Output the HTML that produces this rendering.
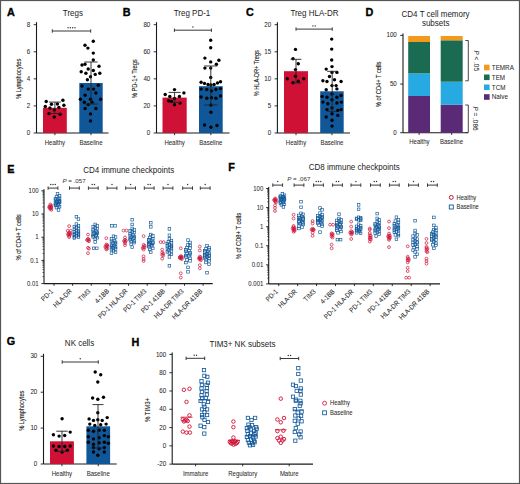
<!DOCTYPE html>
<html><head><meta charset="utf-8"><style>
html,body{margin:0;padding:0;background:#fff;}
svg{display:block;}
text{font-family:"Liberation Sans", sans-serif;}
</style></head><body>
<svg width="520" height="484" viewBox="0 0 520 484">
<rect width="520" height="484" fill="#fff"/>
<rect x="0.5" y="0.5" width="519" height="483" fill="none" stroke="#555" stroke-width="1.2"/>
<line x1="36.50" y1="22.20" x2="36.50" y2="133.00" stroke="#1a1a1a" stroke-width="1.1"/>
<line x1="36.50" y1="133.00" x2="108.50" y2="133.00" stroke="#1a1a1a" stroke-width="1.1"/>
<line x1="33.70" y1="133.00" x2="36.50" y2="133.00" stroke="#1a1a1a" stroke-width="0.9"/>
<text x="0" y="0" font-size="6.94" text-anchor="end" fill="#2a2a2a" stroke="#2a2a2a" stroke-width="0.05" transform="translate(30.30,135.00) scale(0.8929,1)" >0</text>
<line x1="33.70" y1="105.90" x2="36.50" y2="105.90" stroke="#1a1a1a" stroke-width="0.9"/>
<text x="0" y="0" font-size="6.94" text-anchor="end" fill="#2a2a2a" stroke="#2a2a2a" stroke-width="0.05" transform="translate(30.30,107.90) scale(0.8929,1)" >2</text>
<line x1="33.70" y1="78.85" x2="36.50" y2="78.85" stroke="#1a1a1a" stroke-width="0.9"/>
<text x="0" y="0" font-size="6.94" text-anchor="end" fill="#2a2a2a" stroke="#2a2a2a" stroke-width="0.05" transform="translate(30.30,80.85) scale(0.8929,1)" >4</text>
<line x1="33.70" y1="51.80" x2="36.50" y2="51.80" stroke="#1a1a1a" stroke-width="0.9"/>
<text x="0" y="0" font-size="6.94" text-anchor="end" fill="#2a2a2a" stroke="#2a2a2a" stroke-width="0.05" transform="translate(30.30,53.80) scale(0.8929,1)" >6</text>
<line x1="33.70" y1="24.70" x2="36.50" y2="24.70" stroke="#1a1a1a" stroke-width="0.9"/>
<text x="0" y="0" font-size="6.94" text-anchor="end" fill="#2a2a2a" stroke="#2a2a2a" stroke-width="0.05" transform="translate(30.30,26.70) scale(0.8929,1)" >8</text>
<rect x="43.00" y="107.80" width="23.80" height="25.20" fill="#cf1136"/>
<rect x="79.30" y="83.00" width="23.40" height="50.00" fill="#0f5799"/>
<line x1="54.90" y1="133.00" x2="54.90" y2="135.20" stroke="#1a1a1a" stroke-width="0.9"/>
<line x1="91.00" y1="133.00" x2="91.00" y2="135.20" stroke="#1a1a1a" stroke-width="0.9"/>
<text x="0" y="0" font-size="6.72" text-anchor="middle" fill="#2a2a2a" stroke="#2a2a2a" stroke-width="0.05" transform="translate(54.90,144.90) scale(0.8929,1)" >Healthy</text>
<text x="0" y="0" font-size="6.72" text-anchor="middle" fill="#2a2a2a" stroke="#2a2a2a" stroke-width="0.05" transform="translate(91.00,144.90) scale(0.8929,1)" >Baseline</text>
<circle cx="46.20" cy="101.50" r="1.7" fill="#000"/>
<circle cx="62.90" cy="100.30" r="1.7" fill="#000"/>
<circle cx="51.50" cy="104.30" r="1.7" fill="#000"/>
<circle cx="57.40" cy="104.00" r="1.7" fill="#000"/>
<circle cx="45.30" cy="106.50" r="1.7" fill="#000"/>
<circle cx="63.90" cy="105.20" r="1.7" fill="#000"/>
<circle cx="49.90" cy="108.00" r="1.7" fill="#000"/>
<circle cx="58.90" cy="107.40" r="1.7" fill="#000"/>
<circle cx="54.30" cy="109.90" r="1.7" fill="#000"/>
<circle cx="49.00" cy="113.60" r="1.7" fill="#000"/>
<circle cx="60.10" cy="114.20" r="1.7" fill="#000"/>
<circle cx="54.30" cy="117.00" r="1.7" fill="#000"/>
<circle cx="93.30" cy="41.20" r="1.7" fill="#000"/>
<circle cx="85.00" cy="45.30" r="1.7" fill="#000"/>
<circle cx="87.90" cy="48.10" r="1.7" fill="#000"/>
<circle cx="93.30" cy="53.10" r="1.7" fill="#000"/>
<circle cx="93.30" cy="60.00" r="1.7" fill="#000"/>
<circle cx="82.00" cy="65.00" r="1.7" fill="#000"/>
<circle cx="85.00" cy="64.30" r="1.7" fill="#000"/>
<circle cx="99.00" cy="66.20" r="1.7" fill="#000"/>
<circle cx="88.20" cy="69.00" r="1.7" fill="#000"/>
<circle cx="93.30" cy="70.50" r="1.7" fill="#000"/>
<circle cx="81.20" cy="71.70" r="1.7" fill="#000"/>
<circle cx="85.90" cy="73.30" r="1.7" fill="#000"/>
<circle cx="95.20" cy="74.40" r="1.7" fill="#000"/>
<circle cx="99.80" cy="73.30" r="1.7" fill="#000"/>
<circle cx="90.50" cy="76.70" r="1.7" fill="#000"/>
<circle cx="87.40" cy="79.80" r="1.7" fill="#000"/>
<circle cx="82.00" cy="86.00" r="1.7" fill="#000"/>
<circle cx="98.30" cy="85.20" r="1.7" fill="#000"/>
<circle cx="88.20" cy="89.10" r="1.7" fill="#000"/>
<circle cx="93.60" cy="89.10" r="1.7" fill="#000"/>
<circle cx="85.10" cy="95.30" r="1.7" fill="#000"/>
<circle cx="95.90" cy="93.00" r="1.7" fill="#000"/>
<circle cx="80.40" cy="99.20" r="1.7" fill="#000"/>
<circle cx="90.50" cy="99.20" r="1.7" fill="#000"/>
<circle cx="100.60" cy="99.20" r="1.7" fill="#000"/>
<circle cx="84.30" cy="102.30" r="1.7" fill="#000"/>
<circle cx="88.20" cy="104.60" r="1.7" fill="#000"/>
<circle cx="92.00" cy="102.30" r="1.7" fill="#000"/>
<circle cx="85.10" cy="108.50" r="1.7" fill="#000"/>
<circle cx="95.90" cy="108.50" r="1.7" fill="#000"/>
<circle cx="90.50" cy="113.90" r="1.7" fill="#000"/>
<circle cx="90.50" cy="120.90" r="1.7" fill="#000"/>
<line x1="54.90" y1="102.10" x2="54.90" y2="113.50" stroke="#222" stroke-width="0.9"/>
<line x1="48.90" y1="102.10" x2="60.90" y2="102.10" stroke="#222" stroke-width="0.9"/>
<line x1="48.90" y1="113.50" x2="60.90" y2="113.50" stroke="#222" stroke-width="0.9"/>
<line x1="91.00" y1="62.00" x2="91.00" y2="104.00" stroke="#222" stroke-width="0.9"/>
<line x1="84.40" y1="62.00" x2="97.60" y2="62.00" stroke="#222" stroke-width="0.9"/>
<line x1="84.40" y1="104.00" x2="97.60" y2="104.00" stroke="#222" stroke-width="0.9"/>
<line x1="52.30" y1="31.00" x2="90.70" y2="31.00" stroke="#383838" stroke-width="1.0"/>
<line x1="52.30" y1="29.30" x2="52.30" y2="32.70" stroke="#383838" stroke-width="1.0"/>
<line x1="90.70" y1="29.30" x2="90.70" y2="32.70" stroke="#383838" stroke-width="1.0"/>
<circle cx="68.05" cy="27.80" r="0.72" fill="#333"/>
<circle cx="70.35" cy="27.80" r="0.72" fill="#333"/>
<circle cx="72.65" cy="27.80" r="0.72" fill="#333"/>
<circle cx="74.95" cy="27.80" r="0.72" fill="#333"/>
<text x="0" y="0" font-size="8.56" text-anchor="middle" font-weight="normal" fill="#222" transform="translate(72.90,16.10) scale(0.9346,1)" >Tregs</text>
<text x="7.00" y="15.70" font-size="10.8" font-weight="bold" fill="#000" stroke="#000" stroke-width="0.35">A</text>
<text x="0" y="0" font-size="6.6" text-anchor="middle" fill="#222" stroke="#222" stroke-width="0.12" transform="translate(21.20,78.90) rotate(-90)" textLength="40.3" lengthAdjust="spacingAndGlyphs">% Lymphocytes</text>
<line x1="156.50" y1="22.20" x2="156.50" y2="133.00" stroke="#1a1a1a" stroke-width="1.1"/>
<line x1="156.50" y1="133.00" x2="229.50" y2="133.00" stroke="#1a1a1a" stroke-width="1.1"/>
<line x1="153.70" y1="133.00" x2="156.50" y2="133.00" stroke="#1a1a1a" stroke-width="0.9"/>
<text x="0" y="0" font-size="6.94" text-anchor="end" fill="#2a2a2a" stroke="#2a2a2a" stroke-width="0.05" transform="translate(150.30,135.00) scale(0.8929,1)" >0</text>
<line x1="153.70" y1="105.90" x2="156.50" y2="105.90" stroke="#1a1a1a" stroke-width="0.9"/>
<text x="0" y="0" font-size="6.94" text-anchor="end" fill="#2a2a2a" stroke="#2a2a2a" stroke-width="0.05" transform="translate(150.30,107.90) scale(0.8929,1)" >20</text>
<line x1="153.70" y1="78.85" x2="156.50" y2="78.85" stroke="#1a1a1a" stroke-width="0.9"/>
<text x="0" y="0" font-size="6.94" text-anchor="end" fill="#2a2a2a" stroke="#2a2a2a" stroke-width="0.05" transform="translate(150.30,80.85) scale(0.8929,1)" >40</text>
<line x1="153.70" y1="51.80" x2="156.50" y2="51.80" stroke="#1a1a1a" stroke-width="0.9"/>
<text x="0" y="0" font-size="6.94" text-anchor="end" fill="#2a2a2a" stroke="#2a2a2a" stroke-width="0.05" transform="translate(150.30,53.80) scale(0.8929,1)" >60</text>
<line x1="153.70" y1="24.70" x2="156.50" y2="24.70" stroke="#1a1a1a" stroke-width="0.9"/>
<text x="0" y="0" font-size="6.94" text-anchor="end" fill="#2a2a2a" stroke="#2a2a2a" stroke-width="0.05" transform="translate(150.30,26.70) scale(0.8929,1)" >80</text>
<rect x="162.50" y="97.60" width="24.20" height="35.40" fill="#cf1136"/>
<rect x="199.00" y="86.20" width="23.70" height="46.80" fill="#0f5799"/>
<line x1="174.60" y1="133.00" x2="174.60" y2="135.20" stroke="#1a1a1a" stroke-width="0.9"/>
<line x1="210.85" y1="133.00" x2="210.85" y2="135.20" stroke="#1a1a1a" stroke-width="0.9"/>
<text x="0" y="0" font-size="6.72" text-anchor="middle" fill="#2a2a2a" stroke="#2a2a2a" stroke-width="0.05" transform="translate(174.60,144.90) scale(0.8929,1)" >Healthy</text>
<text x="0" y="0" font-size="6.72" text-anchor="middle" fill="#2a2a2a" stroke="#2a2a2a" stroke-width="0.05" transform="translate(210.85,144.90) scale(0.8929,1)" >Baseline</text>
<circle cx="174.50" cy="89.60" r="1.7" fill="#000"/>
<circle cx="165.20" cy="94.50" r="1.7" fill="#000"/>
<circle cx="183.90" cy="92.90" r="1.7" fill="#000"/>
<circle cx="169.80" cy="96.50" r="1.7" fill="#000"/>
<circle cx="179.40" cy="96.50" r="1.7" fill="#000"/>
<circle cx="174.50" cy="98.50" r="1.7" fill="#000"/>
<circle cx="168.50" cy="100.70" r="1.7" fill="#000"/>
<circle cx="171.50" cy="101.50" r="1.7" fill="#000"/>
<circle cx="180.10" cy="103.10" r="1.7" fill="#000"/>
<circle cx="174.50" cy="104.80" r="1.7" fill="#000"/>
<circle cx="210.70" cy="40.20" r="1.7" fill="#000"/>
<circle cx="210.70" cy="47.80" r="1.7" fill="#000"/>
<circle cx="204.90" cy="58.10" r="1.7" fill="#000"/>
<circle cx="218.90" cy="60.20" r="1.7" fill="#000"/>
<circle cx="210.70" cy="61.90" r="1.7" fill="#000"/>
<circle cx="216.40" cy="64.30" r="1.7" fill="#000"/>
<circle cx="204.90" cy="68.10" r="1.7" fill="#000"/>
<circle cx="210.70" cy="68.10" r="1.7" fill="#000"/>
<circle cx="210.70" cy="77.40" r="1.7" fill="#000"/>
<circle cx="201.10" cy="82.30" r="1.7" fill="#000"/>
<circle cx="204.50" cy="83.40" r="1.7" fill="#000"/>
<circle cx="208.00" cy="84.50" r="1.7" fill="#000"/>
<circle cx="210.90" cy="85.00" r="1.7" fill="#000"/>
<circle cx="214.10" cy="84.50" r="1.7" fill="#000"/>
<circle cx="217.50" cy="83.00" r="1.7" fill="#000"/>
<circle cx="220.50" cy="81.80" r="1.7" fill="#000"/>
<circle cx="201.10" cy="89.10" r="1.7" fill="#000"/>
<circle cx="206.80" cy="89.50" r="1.7" fill="#000"/>
<circle cx="211.40" cy="90.90" r="1.7" fill="#000"/>
<circle cx="215.90" cy="89.50" r="1.7" fill="#000"/>
<circle cx="220.50" cy="88.60" r="1.7" fill="#000"/>
<circle cx="201.10" cy="97.00" r="1.7" fill="#000"/>
<circle cx="206.80" cy="98.20" r="1.7" fill="#000"/>
<circle cx="211.40" cy="97.70" r="1.7" fill="#000"/>
<circle cx="215.90" cy="98.20" r="1.7" fill="#000"/>
<circle cx="220.50" cy="95.90" r="1.7" fill="#000"/>
<circle cx="210.90" cy="105.00" r="1.7" fill="#000"/>
<circle cx="210.90" cy="112.30" r="1.7" fill="#000"/>
<circle cx="204.50" cy="125.00" r="1.7" fill="#000"/>
<circle cx="210.90" cy="127.30" r="1.7" fill="#000"/>
<circle cx="217.00" cy="125.50" r="1.7" fill="#000"/>
<line x1="174.60" y1="92.40" x2="174.60" y2="102.40" stroke="#222" stroke-width="0.9"/>
<line x1="168.60" y1="92.40" x2="180.60" y2="92.40" stroke="#222" stroke-width="0.9"/>
<line x1="168.60" y1="102.40" x2="180.60" y2="102.40" stroke="#222" stroke-width="0.9"/>
<line x1="210.80" y1="66.00" x2="210.80" y2="105.00" stroke="#222" stroke-width="0.9"/>
<line x1="204.20" y1="66.00" x2="217.40" y2="66.00" stroke="#222" stroke-width="0.9"/>
<line x1="204.20" y1="105.00" x2="217.40" y2="105.00" stroke="#222" stroke-width="0.9"/>
<line x1="174.40" y1="30.20" x2="211.40" y2="30.20" stroke="#383838" stroke-width="1.0"/>
<line x1="174.40" y1="28.50" x2="174.40" y2="31.90" stroke="#383838" stroke-width="1.0"/>
<line x1="211.40" y1="28.50" x2="211.40" y2="31.90" stroke="#383838" stroke-width="1.0"/>
<circle cx="192.90" cy="27.00" r="0.72" fill="#333"/>
<text x="0" y="0" font-size="8.56" text-anchor="middle" font-weight="normal" fill="#222" transform="translate(192.00,16.10) scale(0.9346,1)" >Treg PD-1</text>
<text x="122.80" y="15.70" font-size="10.8" font-weight="bold" fill="#000" stroke="#000" stroke-width="0.35">B</text>
<text x="0" y="0" font-size="6.6" text-anchor="middle" fill="#222" stroke="#222" stroke-width="0.12" transform="translate(137.00,78.80) rotate(-90)" textLength="39" lengthAdjust="spacingAndGlyphs">% PD-1+ Tregs</text>
<line x1="277.40" y1="22.20" x2="277.40" y2="133.00" stroke="#1a1a1a" stroke-width="1.1"/>
<line x1="277.40" y1="133.00" x2="350.00" y2="133.00" stroke="#1a1a1a" stroke-width="1.1"/>
<line x1="274.60" y1="133.00" x2="277.40" y2="133.00" stroke="#1a1a1a" stroke-width="0.9"/>
<text x="0" y="0" font-size="6.94" text-anchor="end" fill="#2a2a2a" stroke="#2a2a2a" stroke-width="0.05" transform="translate(271.20,135.00) scale(0.8929,1)" >0</text>
<line x1="274.60" y1="105.90" x2="277.40" y2="105.90" stroke="#1a1a1a" stroke-width="0.9"/>
<text x="0" y="0" font-size="6.94" text-anchor="end" fill="#2a2a2a" stroke="#2a2a2a" stroke-width="0.05" transform="translate(271.20,107.90) scale(0.8929,1)" >5</text>
<line x1="274.60" y1="78.85" x2="277.40" y2="78.85" stroke="#1a1a1a" stroke-width="0.9"/>
<text x="0" y="0" font-size="6.94" text-anchor="end" fill="#2a2a2a" stroke="#2a2a2a" stroke-width="0.05" transform="translate(271.20,80.85) scale(0.8929,1)" >10</text>
<line x1="274.60" y1="51.80" x2="277.40" y2="51.80" stroke="#1a1a1a" stroke-width="0.9"/>
<text x="0" y="0" font-size="6.94" text-anchor="end" fill="#2a2a2a" stroke="#2a2a2a" stroke-width="0.05" transform="translate(271.20,53.80) scale(0.8929,1)" >15</text>
<line x1="274.60" y1="24.70" x2="277.40" y2="24.70" stroke="#1a1a1a" stroke-width="0.9"/>
<text x="0" y="0" font-size="6.94" text-anchor="end" fill="#2a2a2a" stroke="#2a2a2a" stroke-width="0.05" transform="translate(271.20,26.70) scale(0.8929,1)" >20</text>
<rect x="284.00" y="71.20" width="24.00" height="61.80" fill="#cf1136"/>
<rect x="320.20" y="91.30" width="23.50" height="41.70" fill="#0f5799"/>
<line x1="296.00" y1="133.00" x2="296.00" y2="135.20" stroke="#1a1a1a" stroke-width="0.9"/>
<line x1="331.95" y1="133.00" x2="331.95" y2="135.20" stroke="#1a1a1a" stroke-width="0.9"/>
<text x="0" y="0" font-size="6.72" text-anchor="middle" fill="#2a2a2a" stroke="#2a2a2a" stroke-width="0.05" transform="translate(296.00,144.90) scale(0.8929,1)" >Healthy</text>
<text x="0" y="0" font-size="6.72" text-anchor="middle" fill="#2a2a2a" stroke="#2a2a2a" stroke-width="0.05" transform="translate(331.95,144.90) scale(0.8929,1)" >Baseline</text>
<circle cx="295.50" cy="49.40" r="1.7" fill="#000"/>
<circle cx="293.00" cy="58.80" r="1.7" fill="#000"/>
<circle cx="298.30" cy="63.80" r="1.7" fill="#000"/>
<circle cx="295.50" cy="69.60" r="1.7" fill="#000"/>
<circle cx="295.50" cy="76.20" r="1.7" fill="#000"/>
<circle cx="287.30" cy="78.70" r="1.7" fill="#000"/>
<circle cx="303.80" cy="78.70" r="1.7" fill="#000"/>
<circle cx="293.00" cy="82.80" r="1.7" fill="#000"/>
<circle cx="298.30" cy="81.20" r="1.7" fill="#000"/>
<circle cx="331.70" cy="39.10" r="1.7" fill="#000"/>
<circle cx="331.70" cy="49.10" r="1.7" fill="#000"/>
<circle cx="331.70" cy="60.00" r="1.7" fill="#000"/>
<circle cx="326.20" cy="69.10" r="1.7" fill="#000"/>
<circle cx="332.00" cy="66.60" r="1.7" fill="#000"/>
<circle cx="332.00" cy="72.40" r="1.7" fill="#000"/>
<circle cx="336.90" cy="72.40" r="1.7" fill="#000"/>
<circle cx="329.50" cy="76.50" r="1.7" fill="#000"/>
<circle cx="334.50" cy="79.80" r="1.7" fill="#000"/>
<circle cx="322.90" cy="80.70" r="1.7" fill="#000"/>
<circle cx="327.00" cy="81.50" r="1.7" fill="#000"/>
<circle cx="341.10" cy="81.50" r="1.7" fill="#000"/>
<circle cx="332.00" cy="85.60" r="1.7" fill="#000"/>
<circle cx="336.10" cy="85.60" r="1.7" fill="#000"/>
<circle cx="326.20" cy="89.80" r="1.7" fill="#000"/>
<circle cx="336.90" cy="88.90" r="1.7" fill="#000"/>
<circle cx="322.10" cy="96.40" r="1.7" fill="#000"/>
<circle cx="327.00" cy="97.20" r="1.7" fill="#000"/>
<circle cx="332.00" cy="93.90" r="1.7" fill="#000"/>
<circle cx="336.90" cy="97.20" r="1.7" fill="#000"/>
<circle cx="341.10" cy="95.50" r="1.7" fill="#000"/>
<circle cx="322.90" cy="102.10" r="1.7" fill="#000"/>
<circle cx="327.90" cy="103.80" r="1.7" fill="#000"/>
<circle cx="332.00" cy="99.70" r="1.7" fill="#000"/>
<circle cx="336.90" cy="103.00" r="1.7" fill="#000"/>
<circle cx="341.40" cy="102.10" r="1.7" fill="#000"/>
<circle cx="327.00" cy="109.60" r="1.7" fill="#000"/>
<circle cx="332.00" cy="107.90" r="1.7" fill="#000"/>
<circle cx="337.80" cy="110.40" r="1.7" fill="#000"/>
<circle cx="341.10" cy="109.60" r="1.7" fill="#000"/>
<circle cx="326.20" cy="117.00" r="1.7" fill="#000"/>
<circle cx="332.00" cy="113.70" r="1.7" fill="#000"/>
<circle cx="337.80" cy="115.40" r="1.7" fill="#000"/>
<circle cx="332.00" cy="120.30" r="1.7" fill="#000"/>
<circle cx="332.00" cy="126.10" r="1.7" fill="#000"/>
<line x1="296.00" y1="59.30" x2="296.00" y2="83.00" stroke="#222" stroke-width="0.9"/>
<line x1="290.60" y1="59.30" x2="301.40" y2="59.30" stroke="#222" stroke-width="0.9"/>
<line x1="290.60" y1="83.00" x2="301.40" y2="83.00" stroke="#222" stroke-width="0.9"/>
<line x1="332.20" y1="71.30" x2="332.20" y2="111.30" stroke="#222" stroke-width="0.9"/>
<line x1="327.20" y1="71.30" x2="337.20" y2="71.30" stroke="#222" stroke-width="0.9"/>
<line x1="327.20" y1="111.30" x2="337.20" y2="111.30" stroke="#222" stroke-width="0.9"/>
<line x1="296.00" y1="29.10" x2="332.20" y2="29.10" stroke="#383838" stroke-width="1.0"/>
<line x1="296.00" y1="27.40" x2="296.00" y2="30.80" stroke="#383838" stroke-width="1.0"/>
<line x1="332.20" y1="27.40" x2="332.20" y2="30.80" stroke="#383838" stroke-width="1.0"/>
<circle cx="312.95" cy="25.90" r="0.72" fill="#333"/>
<circle cx="315.25" cy="25.90" r="0.72" fill="#333"/>
<text x="0" y="0" font-size="8.56" text-anchor="middle" font-weight="normal" fill="#222" transform="translate(314.40,16.10) scale(0.9346,1)" >Treg HLA-DR</text>
<text x="246.00" y="15.70" font-size="10.8" font-weight="bold" fill="#000" stroke="#000" stroke-width="0.35">C</text>
<text x="0" y="0" font-size="6.6" text-anchor="middle" fill="#222" stroke="#222" stroke-width="0.12" transform="translate(259.00,73.20) rotate(-90)" textLength="46.2" lengthAdjust="spacingAndGlyphs">% HLA-DR+ Tregs</text>
<line x1="403.00" y1="33.40" x2="403.00" y2="132.70" stroke="#1a1a1a" stroke-width="1.1"/>
<line x1="403.00" y1="132.70" x2="468.00" y2="132.70" stroke="#1a1a1a" stroke-width="1.1"/>
<line x1="400.20" y1="132.70" x2="403.00" y2="132.70" stroke="#1a1a1a" stroke-width="0.9"/>
<text x="0" y="0" font-size="6.94" text-anchor="end" fill="#2a2a2a" stroke="#2a2a2a" stroke-width="0.05" transform="translate(396.80,134.70) scale(0.8929,1)" >0</text>
<line x1="400.20" y1="84.05" x2="403.00" y2="84.05" stroke="#1a1a1a" stroke-width="0.9"/>
<text x="0" y="0" font-size="6.94" text-anchor="end" fill="#2a2a2a" stroke="#2a2a2a" stroke-width="0.05" transform="translate(396.80,86.05) scale(0.8929,1)" >50</text>
<line x1="400.20" y1="35.40" x2="403.00" y2="35.40" stroke="#1a1a1a" stroke-width="0.9"/>
<text x="0" y="0" font-size="6.94" text-anchor="end" fill="#2a2a2a" stroke="#2a2a2a" stroke-width="0.05" transform="translate(396.80,37.40) scale(0.8929,1)" >100</text>
<rect x="408.20" y="96.00" width="21.80" height="36.70" fill="#5b2a76"/>
<rect x="408.20" y="73.40" width="21.80" height="22.60" fill="#27a9e1"/>
<rect x="408.20" y="42.00" width="21.80" height="31.40" fill="#1b6a52"/>
<rect x="408.20" y="36.00" width="21.80" height="6.00" fill="#f39a1e"/>
<rect x="440.70" y="104.80" width="22.00" height="27.90" fill="#5b2a76"/>
<rect x="440.70" y="81.70" width="22.00" height="23.10" fill="#27a9e1"/>
<rect x="440.70" y="40.30" width="22.00" height="41.40" fill="#1b6a52"/>
<rect x="440.70" y="36.00" width="22.00" height="4.30" fill="#f39a1e"/>
<line x1="419.10" y1="132.70" x2="419.10" y2="134.90" stroke="#1a1a1a" stroke-width="0.9"/>
<line x1="451.70" y1="132.70" x2="451.70" y2="134.90" stroke="#1a1a1a" stroke-width="0.9"/>
<text x="0" y="0" font-size="6.72" text-anchor="middle" fill="#2a2a2a" stroke="#2a2a2a" stroke-width="0.05" transform="translate(419.40,144.00) scale(0.8929,1)" >Healthy</text>
<text x="0" y="0" font-size="6.72" text-anchor="middle" fill="#2a2a2a" stroke="#2a2a2a" stroke-width="0.05" transform="translate(451.50,144.00) scale(0.8929,1)" >Baseline</text>
<path d="M465.3 40.5 H468.3 V80.8 H465.3" fill="none" stroke="#333" stroke-width="0.9"/>
<path d="M465.3 105 H468.3 V132.6 H465.3" fill="none" stroke="#333" stroke-width="0.9"/>
<text x="0" y="0" font-size="7" text-anchor="middle" fill="#2a2a2a" stroke="#2a2a2a" stroke-width="0.05" transform="translate(476.2,60.7) rotate(90) scale(0.92,1)" dy="2.3"><tspan font-style="italic">P</tspan> &lt; .05</text>
<text x="0" y="0" font-size="7" text-anchor="middle" fill="#2a2a2a" stroke="#2a2a2a" stroke-width="0.05" transform="translate(474.9,118.5) rotate(90) scale(0.92,1)" dy="2.3"><tspan font-style="italic">P</tspan> = .086</text>
<rect x="484.00" y="64.70" width="5.60" height="5.60" fill="#f39a1e"/>
<text x="0" y="0" font-size="7.06" text-anchor="start" fill="#2a2a2a" stroke="#2a2a2a" stroke-width="0.05" transform="translate(491.80,69.70) scale(0.8929,1)" >TEMRA</text>
<rect x="484.00" y="74.50" width="5.60" height="5.60" fill="#1b6a52"/>
<text x="0" y="0" font-size="7.06" text-anchor="start" fill="#2a2a2a" stroke="#2a2a2a" stroke-width="0.05" transform="translate(491.80,79.50) scale(0.8929,1)" >TEM</text>
<rect x="484.00" y="84.50" width="5.60" height="5.60" fill="#27a9e1"/>
<text x="0" y="0" font-size="7.06" text-anchor="start" fill="#2a2a2a" stroke="#2a2a2a" stroke-width="0.05" transform="translate(491.80,89.50) scale(0.8929,1)" >TCM</text>
<rect x="484.00" y="94.20" width="5.60" height="5.60" fill="#5b2a76"/>
<text x="0" y="0" font-size="7.06" text-anchor="start" fill="#2a2a2a" stroke="#2a2a2a" stroke-width="0.05" transform="translate(491.80,99.20) scale(0.8929,1)" >Naive</text>
<text x="0" y="0" font-size="8.56" text-anchor="middle" font-weight="normal" fill="#222" transform="translate(435.60,16.50) scale(0.9346,1)" >CD4 T cell memory</text>
<text x="0" y="0" font-size="8.56" text-anchor="middle" font-weight="normal" fill="#222" transform="translate(435.70,25.80) scale(0.9346,1)" >subsets</text>
<text x="365.50" y="15.70" font-size="10.8" font-weight="bold" fill="#000" stroke="#000" stroke-width="0.35">D</text>
<text x="0" y="0" font-size="6.6" text-anchor="middle" fill="#222" stroke="#222" stroke-width="0.12" transform="translate(380.60,84.40) rotate(-90)" textLength="45.6" lengthAdjust="spacingAndGlyphs">% of CD4+ T cells</text>
<line x1="44.00" y1="189.30" x2="44.00" y2="283.60" stroke="#1a1a1a" stroke-width="1.1"/>
<line x1="44.00" y1="283.60" x2="212.70" y2="283.60" stroke="#1a1a1a" stroke-width="1.1"/>
<line x1="41.40" y1="190.80" x2="44.00" y2="190.80" stroke="#1a1a1a" stroke-width="0.9"/>
<text x="0" y="0" font-size="6.72" text-anchor="end" fill="#2a2a2a" stroke="#2a2a2a" stroke-width="0.05" transform="translate(38.60,192.90) scale(0.8929,1)" >100</text>
<line x1="42.40" y1="207.02" x2="44.00" y2="207.02" stroke="#1a1a1a" stroke-width="0.6"/>
<line x1="42.40" y1="202.93" x2="44.00" y2="202.93" stroke="#1a1a1a" stroke-width="0.6"/>
<line x1="42.40" y1="200.03" x2="44.00" y2="200.03" stroke="#1a1a1a" stroke-width="0.6"/>
<line x1="42.40" y1="197.78" x2="44.00" y2="197.78" stroke="#1a1a1a" stroke-width="0.6"/>
<line x1="42.40" y1="195.95" x2="44.00" y2="195.95" stroke="#1a1a1a" stroke-width="0.6"/>
<line x1="42.40" y1="194.39" x2="44.00" y2="194.39" stroke="#1a1a1a" stroke-width="0.6"/>
<line x1="42.40" y1="193.05" x2="44.00" y2="193.05" stroke="#1a1a1a" stroke-width="0.6"/>
<line x1="42.40" y1="191.86" x2="44.00" y2="191.86" stroke="#1a1a1a" stroke-width="0.6"/>
<line x1="41.40" y1="214.00" x2="44.00" y2="214.00" stroke="#1a1a1a" stroke-width="0.9"/>
<text x="0" y="0" font-size="6.72" text-anchor="end" fill="#2a2a2a" stroke="#2a2a2a" stroke-width="0.05" transform="translate(38.60,216.10) scale(0.8929,1)" >10</text>
<line x1="42.40" y1="230.22" x2="44.00" y2="230.22" stroke="#1a1a1a" stroke-width="0.6"/>
<line x1="42.40" y1="226.13" x2="44.00" y2="226.13" stroke="#1a1a1a" stroke-width="0.6"/>
<line x1="42.40" y1="223.23" x2="44.00" y2="223.23" stroke="#1a1a1a" stroke-width="0.6"/>
<line x1="42.40" y1="220.98" x2="44.00" y2="220.98" stroke="#1a1a1a" stroke-width="0.6"/>
<line x1="42.40" y1="219.15" x2="44.00" y2="219.15" stroke="#1a1a1a" stroke-width="0.6"/>
<line x1="42.40" y1="217.59" x2="44.00" y2="217.59" stroke="#1a1a1a" stroke-width="0.6"/>
<line x1="42.40" y1="216.25" x2="44.00" y2="216.25" stroke="#1a1a1a" stroke-width="0.6"/>
<line x1="42.40" y1="215.06" x2="44.00" y2="215.06" stroke="#1a1a1a" stroke-width="0.6"/>
<line x1="41.40" y1="237.20" x2="44.00" y2="237.20" stroke="#1a1a1a" stroke-width="0.9"/>
<text x="0" y="0" font-size="6.72" text-anchor="end" fill="#2a2a2a" stroke="#2a2a2a" stroke-width="0.05" transform="translate(38.60,239.30) scale(0.8929,1)" >1</text>
<line x1="42.40" y1="253.42" x2="44.00" y2="253.42" stroke="#1a1a1a" stroke-width="0.6"/>
<line x1="42.40" y1="249.33" x2="44.00" y2="249.33" stroke="#1a1a1a" stroke-width="0.6"/>
<line x1="42.40" y1="246.43" x2="44.00" y2="246.43" stroke="#1a1a1a" stroke-width="0.6"/>
<line x1="42.40" y1="244.18" x2="44.00" y2="244.18" stroke="#1a1a1a" stroke-width="0.6"/>
<line x1="42.40" y1="242.35" x2="44.00" y2="242.35" stroke="#1a1a1a" stroke-width="0.6"/>
<line x1="42.40" y1="240.79" x2="44.00" y2="240.79" stroke="#1a1a1a" stroke-width="0.6"/>
<line x1="42.40" y1="239.45" x2="44.00" y2="239.45" stroke="#1a1a1a" stroke-width="0.6"/>
<line x1="42.40" y1="238.26" x2="44.00" y2="238.26" stroke="#1a1a1a" stroke-width="0.6"/>
<line x1="41.40" y1="260.40" x2="44.00" y2="260.40" stroke="#1a1a1a" stroke-width="0.9"/>
<text x="0" y="0" font-size="6.72" text-anchor="end" fill="#2a2a2a" stroke="#2a2a2a" stroke-width="0.05" transform="translate(38.60,262.50) scale(0.8929,1)" >0.1</text>
<line x1="42.40" y1="276.62" x2="44.00" y2="276.62" stroke="#1a1a1a" stroke-width="0.6"/>
<line x1="42.40" y1="272.53" x2="44.00" y2="272.53" stroke="#1a1a1a" stroke-width="0.6"/>
<line x1="42.40" y1="269.63" x2="44.00" y2="269.63" stroke="#1a1a1a" stroke-width="0.6"/>
<line x1="42.40" y1="267.38" x2="44.00" y2="267.38" stroke="#1a1a1a" stroke-width="0.6"/>
<line x1="42.40" y1="265.55" x2="44.00" y2="265.55" stroke="#1a1a1a" stroke-width="0.6"/>
<line x1="42.40" y1="263.99" x2="44.00" y2="263.99" stroke="#1a1a1a" stroke-width="0.6"/>
<line x1="42.40" y1="262.65" x2="44.00" y2="262.65" stroke="#1a1a1a" stroke-width="0.6"/>
<line x1="42.40" y1="261.46" x2="44.00" y2="261.46" stroke="#1a1a1a" stroke-width="0.6"/>
<line x1="41.40" y1="283.60" x2="44.00" y2="283.60" stroke="#1a1a1a" stroke-width="0.9"/>
<text x="0" y="0" font-size="6.72" text-anchor="end" fill="#2a2a2a" stroke="#2a2a2a" stroke-width="0.05" transform="translate(38.60,285.70) scale(0.8929,1)" >0.01</text>
<line x1="54.00" y1="283.60" x2="54.00" y2="285.80" stroke="#1a1a1a" stroke-width="0.9"/>
<text x="0" y="0" font-size="6.95" text-anchor="end" fill="#2a2a2a" stroke="#2a2a2a" stroke-width="0.05" transform="translate(53.70,291.70) rotate(-45) scale(0.89,1)">PD-1</text>
<line x1="72.64" y1="283.60" x2="72.64" y2="285.80" stroke="#1a1a1a" stroke-width="0.9"/>
<text x="0" y="0" font-size="6.95" text-anchor="end" fill="#2a2a2a" stroke="#2a2a2a" stroke-width="0.05" transform="translate(72.34,291.70) rotate(-45) scale(0.89,1)">HLA-DR</text>
<line x1="91.28" y1="283.60" x2="91.28" y2="285.80" stroke="#1a1a1a" stroke-width="0.9"/>
<text x="0" y="0" font-size="6.95" text-anchor="end" fill="#2a2a2a" stroke="#2a2a2a" stroke-width="0.05" transform="translate(90.98,291.70) rotate(-45) scale(0.89,1)">TIM3</text>
<line x1="109.92" y1="283.60" x2="109.92" y2="285.80" stroke="#1a1a1a" stroke-width="0.9"/>
<text x="0" y="0" font-size="6.95" text-anchor="end" fill="#2a2a2a" stroke="#2a2a2a" stroke-width="0.05" transform="translate(109.62,291.70) rotate(-45) scale(0.89,1)">4-1BB</text>
<line x1="128.56" y1="283.60" x2="128.56" y2="285.80" stroke="#1a1a1a" stroke-width="0.9"/>
<text x="0" y="0" font-size="6.95" text-anchor="end" fill="#2a2a2a" stroke="#2a2a2a" stroke-width="0.05" transform="translate(128.26,291.70) rotate(-45) scale(0.89,1)">PD-1 HLA-DR</text>
<line x1="147.20" y1="283.60" x2="147.20" y2="285.80" stroke="#1a1a1a" stroke-width="0.9"/>
<text x="0" y="0" font-size="6.95" text-anchor="end" fill="#2a2a2a" stroke="#2a2a2a" stroke-width="0.05" transform="translate(146.90,291.70) rotate(-45) scale(0.89,1)">PD-1 TIM3</text>
<line x1="165.84" y1="283.60" x2="165.84" y2="285.80" stroke="#1a1a1a" stroke-width="0.9"/>
<text x="0" y="0" font-size="6.95" text-anchor="end" fill="#2a2a2a" stroke="#2a2a2a" stroke-width="0.05" transform="translate(165.54,291.70) rotate(-45) scale(0.89,1)">PD-1 41BB</text>
<line x1="184.48" y1="283.60" x2="184.48" y2="285.80" stroke="#1a1a1a" stroke-width="0.9"/>
<text x="0" y="0" font-size="6.95" text-anchor="end" fill="#2a2a2a" stroke="#2a2a2a" stroke-width="0.05" transform="translate(184.18,291.70) rotate(-45) scale(0.89,1)">HLA-DR TIM3</text>
<line x1="203.12" y1="283.60" x2="203.12" y2="285.80" stroke="#1a1a1a" stroke-width="0.9"/>
<text x="0" y="0" font-size="6.95" text-anchor="end" fill="#2a2a2a" stroke="#2a2a2a" stroke-width="0.05" transform="translate(202.82,291.70) rotate(-45) scale(0.89,1)">HLA-DR 41BB</text>
<line x1="48.10" y1="188.10" x2="57.90" y2="188.10" stroke="#383838" stroke-width="1.0"/>
<line x1="48.10" y1="186.40" x2="48.10" y2="189.80" stroke="#383838" stroke-width="1.0"/>
<line x1="57.90" y1="186.40" x2="57.90" y2="189.80" stroke="#383838" stroke-width="1.0"/>
<circle cx="50.70" cy="184.50" r="0.72" fill="#333"/>
<circle cx="53.00" cy="184.50" r="0.72" fill="#333"/>
<circle cx="55.30" cy="184.50" r="0.72" fill="#333"/>
<line x1="69.50" y1="188.10" x2="79.30" y2="188.10" stroke="#383838" stroke-width="1.0"/>
<line x1="69.50" y1="186.40" x2="69.50" y2="189.80" stroke="#383838" stroke-width="1.0"/>
<line x1="79.30" y1="186.40" x2="79.30" y2="189.80" stroke="#383838" stroke-width="1.0"/>
<line x1="88.40" y1="188.10" x2="98.20" y2="188.10" stroke="#383838" stroke-width="1.0"/>
<line x1="88.40" y1="186.40" x2="88.40" y2="189.80" stroke="#383838" stroke-width="1.0"/>
<line x1="98.20" y1="186.40" x2="98.20" y2="189.80" stroke="#383838" stroke-width="1.0"/>
<circle cx="92.15" cy="184.50" r="0.72" fill="#333"/>
<circle cx="94.45" cy="184.50" r="0.72" fill="#333"/>
<line x1="107.10" y1="188.10" x2="116.90" y2="188.10" stroke="#383838" stroke-width="1.0"/>
<line x1="107.10" y1="186.40" x2="107.10" y2="189.80" stroke="#383838" stroke-width="1.0"/>
<line x1="116.90" y1="186.40" x2="116.90" y2="189.80" stroke="#383838" stroke-width="1.0"/>
<circle cx="112.00" cy="184.50" r="0.72" fill="#333"/>
<line x1="125.70" y1="188.10" x2="135.50" y2="188.10" stroke="#383838" stroke-width="1.0"/>
<line x1="125.70" y1="186.40" x2="125.70" y2="189.80" stroke="#383838" stroke-width="1.0"/>
<line x1="135.50" y1="186.40" x2="135.50" y2="189.80" stroke="#383838" stroke-width="1.0"/>
<circle cx="130.60" cy="184.50" r="0.72" fill="#333"/>
<line x1="144.30" y1="188.10" x2="154.10" y2="188.10" stroke="#383838" stroke-width="1.0"/>
<line x1="144.30" y1="186.40" x2="144.30" y2="189.80" stroke="#383838" stroke-width="1.0"/>
<line x1="154.10" y1="186.40" x2="154.10" y2="189.80" stroke="#383838" stroke-width="1.0"/>
<circle cx="148.05" cy="184.50" r="0.72" fill="#333"/>
<circle cx="150.35" cy="184.50" r="0.72" fill="#333"/>
<line x1="163.10" y1="188.10" x2="172.90" y2="188.10" stroke="#383838" stroke-width="1.0"/>
<line x1="163.10" y1="186.40" x2="163.10" y2="189.80" stroke="#383838" stroke-width="1.0"/>
<line x1="172.90" y1="186.40" x2="172.90" y2="189.80" stroke="#383838" stroke-width="1.0"/>
<circle cx="168.00" cy="184.50" r="0.72" fill="#333"/>
<line x1="182.70" y1="188.10" x2="192.50" y2="188.10" stroke="#383838" stroke-width="1.0"/>
<line x1="182.70" y1="186.40" x2="182.70" y2="189.80" stroke="#383838" stroke-width="1.0"/>
<line x1="192.50" y1="186.40" x2="192.50" y2="189.80" stroke="#383838" stroke-width="1.0"/>
<circle cx="187.60" cy="184.50" r="0.72" fill="#333"/>
<line x1="200.30" y1="188.10" x2="210.10" y2="188.10" stroke="#383838" stroke-width="1.0"/>
<line x1="200.30" y1="186.40" x2="200.30" y2="189.80" stroke="#383838" stroke-width="1.0"/>
<line x1="210.10" y1="186.40" x2="210.10" y2="189.80" stroke="#383838" stroke-width="1.0"/>
<circle cx="205.20" cy="184.50" r="0.72" fill="#333"/>
<text x="74.00" y="182.80" font-size="6.2" text-anchor="middle" fill="#333"><tspan font-style="italic">P</tspan> = .057</text>
<circle cx="50.30" cy="204.52" r="1.42" fill="#fff" fill-opacity="0.0" stroke="#cf1136" stroke-width="0.7"/>
<circle cx="51.28" cy="205.52" r="1.42" fill="#fff" fill-opacity="0.0" stroke="#cf1136" stroke-width="0.7"/>
<circle cx="50.30" cy="206.31" r="1.42" fill="#fff" fill-opacity="0.0" stroke="#cf1136" stroke-width="0.7"/>
<circle cx="49.32" cy="206.63" r="1.42" fill="#fff" fill-opacity="0.0" stroke="#cf1136" stroke-width="0.7"/>
<circle cx="51.28" cy="207.10" r="1.42" fill="#fff" fill-opacity="0.0" stroke="#cf1136" stroke-width="0.7"/>
<circle cx="50.30" cy="207.52" r="1.42" fill="#fff" fill-opacity="0.0" stroke="#cf1136" stroke-width="0.7"/>
<circle cx="49.32" cy="207.77" r="1.42" fill="#fff" fill-opacity="0.0" stroke="#cf1136" stroke-width="0.7"/>
<circle cx="51.28" cy="208.30" r="1.42" fill="#fff" fill-opacity="0.0" stroke="#cf1136" stroke-width="0.7"/>
<circle cx="50.30" cy="208.87" r="1.42" fill="#fff" fill-opacity="0.0" stroke="#cf1136" stroke-width="0.7"/>
<circle cx="51.28" cy="209.85" r="1.42" fill="#fff" fill-opacity="0.0" stroke="#cf1136" stroke-width="0.7"/>
<rect x="56.20" y="192.36" width="2.6" height="2.6" fill="none" stroke="#0f5799" stroke-width="0.65"/>
<rect x="58.23" y="194.58" width="2.6" height="2.6" fill="none" stroke="#0f5799" stroke-width="0.65"/>
<rect x="55.19" y="195.53" width="2.6" height="2.6" fill="none" stroke="#0f5799" stroke-width="0.65"/>
<rect x="58.23" y="196.92" width="2.6" height="2.6" fill="none" stroke="#0f5799" stroke-width="0.65"/>
<rect x="54.17" y="197.58" width="2.6" height="2.6" fill="none" stroke="#0f5799" stroke-width="0.65"/>
<rect x="57.22" y="197.91" width="2.6" height="2.6" fill="none" stroke="#0f5799" stroke-width="0.65"/>
<rect x="54.17" y="198.98" width="2.6" height="2.6" fill="none" stroke="#0f5799" stroke-width="0.65"/>
<rect x="58.23" y="199.53" width="2.6" height="2.6" fill="none" stroke="#0f5799" stroke-width="0.65"/>
<rect x="55.19" y="199.92" width="2.6" height="2.6" fill="none" stroke="#0f5799" stroke-width="0.65"/>
<rect x="58.23" y="200.40" width="2.6" height="2.6" fill="none" stroke="#0f5799" stroke-width="0.65"/>
<rect x="55.19" y="200.71" width="2.6" height="2.6" fill="none" stroke="#0f5799" stroke-width="0.65"/>
<rect x="58.23" y="201.14" width="2.6" height="2.6" fill="none" stroke="#0f5799" stroke-width="0.65"/>
<rect x="54.17" y="201.89" width="2.6" height="2.6" fill="none" stroke="#0f5799" stroke-width="0.65"/>
<rect x="57.22" y="202.24" width="2.6" height="2.6" fill="none" stroke="#0f5799" stroke-width="0.65"/>
<rect x="54.17" y="202.90" width="2.6" height="2.6" fill="none" stroke="#0f5799" stroke-width="0.65"/>
<rect x="57.22" y="203.58" width="2.6" height="2.6" fill="none" stroke="#0f5799" stroke-width="0.65"/>
<rect x="54.17" y="204.19" width="2.6" height="2.6" fill="none" stroke="#0f5799" stroke-width="0.65"/>
<rect x="58.23" y="205.32" width="2.6" height="2.6" fill="none" stroke="#0f5799" stroke-width="0.65"/>
<rect x="55.19" y="206.36" width="2.6" height="2.6" fill="none" stroke="#0f5799" stroke-width="0.65"/>
<rect x="57.22" y="208.67" width="2.6" height="2.6" fill="none" stroke="#0f5799" stroke-width="0.65"/>
<circle cx="69.20" cy="226.10" r="1.42" fill="#fff" fill-opacity="0.0" stroke="#cf1136" stroke-width="0.7"/>
<circle cx="67.70" cy="230.70" r="1.42" fill="#fff" fill-opacity="0.0" stroke="#cf1136" stroke-width="0.7"/>
<circle cx="70.70" cy="230.70" r="1.42" fill="#fff" fill-opacity="0.0" stroke="#cf1136" stroke-width="0.7"/>
<circle cx="69.20" cy="232.50" r="1.42" fill="#fff" fill-opacity="0.0" stroke="#cf1136" stroke-width="0.7"/>
<circle cx="70.18" cy="233.26" r="1.42" fill="#fff" fill-opacity="0.0" stroke="#cf1136" stroke-width="0.7"/>
<circle cx="68.22" cy="233.69" r="1.42" fill="#fff" fill-opacity="0.0" stroke="#cf1136" stroke-width="0.7"/>
<circle cx="69.20" cy="234.15" r="1.42" fill="#fff" fill-opacity="0.0" stroke="#cf1136" stroke-width="0.7"/>
<circle cx="70.18" cy="234.51" r="1.42" fill="#fff" fill-opacity="0.0" stroke="#cf1136" stroke-width="0.7"/>
<circle cx="68.22" cy="234.92" r="1.42" fill="#fff" fill-opacity="0.0" stroke="#cf1136" stroke-width="0.7"/>
<circle cx="69.20" cy="235.92" r="1.42" fill="#fff" fill-opacity="0.0" stroke="#cf1136" stroke-width="0.7"/>
<circle cx="69.20" cy="237.15" r="1.42" fill="#fff" fill-opacity="0.0" stroke="#cf1136" stroke-width="0.7"/>
<rect x="75.10" y="215.50" width="2.6" height="2.6" fill="none" stroke="#0f5799" stroke-width="0.65"/>
<rect x="77.13" y="217.80" width="2.6" height="2.6" fill="none" stroke="#0f5799" stroke-width="0.65"/>
<rect x="75.10" y="222.77" width="2.6" height="2.6" fill="none" stroke="#0f5799" stroke-width="0.65"/>
<rect x="77.13" y="224.35" width="2.6" height="2.6" fill="none" stroke="#0f5799" stroke-width="0.65"/>
<rect x="73.07" y="225.28" width="2.6" height="2.6" fill="none" stroke="#0f5799" stroke-width="0.65"/>
<rect x="75.10" y="226.35" width="2.6" height="2.6" fill="none" stroke="#0f5799" stroke-width="0.65"/>
<rect x="77.13" y="227.38" width="2.6" height="2.6" fill="none" stroke="#0f5799" stroke-width="0.65"/>
<rect x="73.07" y="228.11" width="2.6" height="2.6" fill="none" stroke="#0f5799" stroke-width="0.65"/>
<rect x="75.10" y="229.34" width="2.6" height="2.6" fill="none" stroke="#0f5799" stroke-width="0.65"/>
<rect x="77.13" y="229.85" width="2.6" height="2.6" fill="none" stroke="#0f5799" stroke-width="0.65"/>
<rect x="73.07" y="230.76" width="2.6" height="2.6" fill="none" stroke="#0f5799" stroke-width="0.65"/>
<rect x="77.13" y="231.16" width="2.6" height="2.6" fill="none" stroke="#0f5799" stroke-width="0.65"/>
<rect x="75.10" y="232.04" width="2.6" height="2.6" fill="none" stroke="#0f5799" stroke-width="0.65"/>
<rect x="73.07" y="232.56" width="2.6" height="2.6" fill="none" stroke="#0f5799" stroke-width="0.65"/>
<rect x="77.13" y="232.74" width="2.6" height="2.6" fill="none" stroke="#0f5799" stroke-width="0.65"/>
<rect x="73.07" y="233.37" width="2.6" height="2.6" fill="none" stroke="#0f5799" stroke-width="0.65"/>
<rect x="77.13" y="234.18" width="2.6" height="2.6" fill="none" stroke="#0f5799" stroke-width="0.65"/>
<rect x="75.10" y="234.54" width="2.6" height="2.6" fill="none" stroke="#0f5799" stroke-width="0.65"/>
<rect x="73.07" y="235.48" width="2.6" height="2.6" fill="none" stroke="#0f5799" stroke-width="0.65"/>
<rect x="77.13" y="235.92" width="2.6" height="2.6" fill="none" stroke="#0f5799" stroke-width="0.65"/>
<rect x="73.07" y="236.67" width="2.6" height="2.6" fill="none" stroke="#0f5799" stroke-width="0.65"/>
<circle cx="88.00" cy="234.60" r="1.42" fill="#fff" fill-opacity="0.0" stroke="#cf1136" stroke-width="0.7"/>
<circle cx="88.00" cy="238.85" r="1.42" fill="#fff" fill-opacity="0.0" stroke="#cf1136" stroke-width="0.7"/>
<circle cx="88.98" cy="239.65" r="1.42" fill="#fff" fill-opacity="0.0" stroke="#cf1136" stroke-width="0.7"/>
<circle cx="87.02" cy="239.96" r="1.42" fill="#fff" fill-opacity="0.0" stroke="#cf1136" stroke-width="0.7"/>
<circle cx="88.00" cy="240.39" r="1.42" fill="#fff" fill-opacity="0.0" stroke="#cf1136" stroke-width="0.7"/>
<circle cx="88.98" cy="241.22" r="1.42" fill="#fff" fill-opacity="0.0" stroke="#cf1136" stroke-width="0.7"/>
<circle cx="88.00" cy="247.80" r="1.42" fill="#fff" fill-opacity="0.0" stroke="#cf1136" stroke-width="0.7"/>
<circle cx="88.98" cy="248.60" r="1.42" fill="#fff" fill-opacity="0.0" stroke="#cf1136" stroke-width="0.7"/>
<circle cx="88.00" cy="253.20" r="1.42" fill="#fff" fill-opacity="0.0" stroke="#cf1136" stroke-width="0.7"/>
<rect x="93.90" y="223.12" width="2.6" height="2.6" fill="none" stroke="#0f5799" stroke-width="0.65"/>
<rect x="95.93" y="224.60" width="2.6" height="2.6" fill="none" stroke="#0f5799" stroke-width="0.65"/>
<rect x="91.87" y="225.30" width="2.6" height="2.6" fill="none" stroke="#0f5799" stroke-width="0.65"/>
<rect x="93.90" y="226.63" width="2.6" height="2.6" fill="none" stroke="#0f5799" stroke-width="0.65"/>
<rect x="95.93" y="227.54" width="2.6" height="2.6" fill="none" stroke="#0f5799" stroke-width="0.65"/>
<rect x="91.87" y="228.43" width="2.6" height="2.6" fill="none" stroke="#0f5799" stroke-width="0.65"/>
<rect x="94.92" y="229.73" width="2.6" height="2.6" fill="none" stroke="#0f5799" stroke-width="0.65"/>
<rect x="91.87" y="230.11" width="2.6" height="2.6" fill="none" stroke="#0f5799" stroke-width="0.65"/>
<rect x="95.93" y="231.04" width="2.6" height="2.6" fill="none" stroke="#0f5799" stroke-width="0.65"/>
<rect x="92.89" y="231.64" width="2.6" height="2.6" fill="none" stroke="#0f5799" stroke-width="0.65"/>
<rect x="95.93" y="232.15" width="2.6" height="2.6" fill="none" stroke="#0f5799" stroke-width="0.65"/>
<rect x="91.87" y="233.01" width="2.6" height="2.6" fill="none" stroke="#0f5799" stroke-width="0.65"/>
<rect x="94.92" y="233.33" width="2.6" height="2.6" fill="none" stroke="#0f5799" stroke-width="0.65"/>
<rect x="91.87" y="234.26" width="2.6" height="2.6" fill="none" stroke="#0f5799" stroke-width="0.65"/>
<rect x="94.92" y="234.67" width="2.6" height="2.6" fill="none" stroke="#0f5799" stroke-width="0.65"/>
<rect x="91.87" y="235.66" width="2.6" height="2.6" fill="none" stroke="#0f5799" stroke-width="0.65"/>
<rect x="95.93" y="236.43" width="2.6" height="2.6" fill="none" stroke="#0f5799" stroke-width="0.65"/>
<rect x="93.90" y="237.58" width="2.6" height="2.6" fill="none" stroke="#0f5799" stroke-width="0.65"/>
<rect x="93.90" y="240.66" width="2.6" height="2.6" fill="none" stroke="#0f5799" stroke-width="0.65"/>
<rect x="92.30" y="247.00" width="2.6" height="2.6" fill="none" stroke="#0f5799" stroke-width="0.65"/>
<rect x="95.50" y="247.00" width="2.6" height="2.6" fill="none" stroke="#0f5799" stroke-width="0.65"/>
<circle cx="106.30" cy="238.20" r="1.42" fill="#fff" fill-opacity="0.0" stroke="#cf1136" stroke-width="0.7"/>
<circle cx="106.30" cy="244.47" r="1.42" fill="#fff" fill-opacity="0.0" stroke="#cf1136" stroke-width="0.7"/>
<circle cx="107.28" cy="245.01" r="1.42" fill="#fff" fill-opacity="0.0" stroke="#cf1136" stroke-width="0.7"/>
<circle cx="106.30" cy="245.95" r="1.42" fill="#fff" fill-opacity="0.0" stroke="#cf1136" stroke-width="0.7"/>
<circle cx="107.28" cy="246.21" r="1.42" fill="#fff" fill-opacity="0.0" stroke="#cf1136" stroke-width="0.7"/>
<circle cx="105.32" cy="246.90" r="1.42" fill="#fff" fill-opacity="0.0" stroke="#cf1136" stroke-width="0.7"/>
<circle cx="106.30" cy="247.91" r="1.42" fill="#fff" fill-opacity="0.0" stroke="#cf1136" stroke-width="0.7"/>
<circle cx="107.28" cy="248.68" r="1.42" fill="#fff" fill-opacity="0.0" stroke="#cf1136" stroke-width="0.7"/>
<circle cx="106.30" cy="249.35" r="1.42" fill="#fff" fill-opacity="0.0" stroke="#cf1136" stroke-width="0.7"/>
<rect x="110.60" y="224.50" width="2.6" height="2.6" fill="none" stroke="#0f5799" stroke-width="0.65"/>
<rect x="113.80" y="224.50" width="2.6" height="2.6" fill="none" stroke="#0f5799" stroke-width="0.65"/>
<rect x="112.20" y="234.97" width="2.6" height="2.6" fill="none" stroke="#0f5799" stroke-width="0.65"/>
<rect x="114.23" y="235.78" width="2.6" height="2.6" fill="none" stroke="#0f5799" stroke-width="0.65"/>
<rect x="110.17" y="237.51" width="2.6" height="2.6" fill="none" stroke="#0f5799" stroke-width="0.65"/>
<rect x="113.22" y="239.32" width="2.6" height="2.6" fill="none" stroke="#0f5799" stroke-width="0.65"/>
<rect x="110.17" y="240.03" width="2.6" height="2.6" fill="none" stroke="#0f5799" stroke-width="0.65"/>
<rect x="114.23" y="241.01" width="2.6" height="2.6" fill="none" stroke="#0f5799" stroke-width="0.65"/>
<rect x="111.19" y="241.76" width="2.6" height="2.6" fill="none" stroke="#0f5799" stroke-width="0.65"/>
<rect x="114.23" y="242.63" width="2.6" height="2.6" fill="none" stroke="#0f5799" stroke-width="0.65"/>
<rect x="110.17" y="243.73" width="2.6" height="2.6" fill="none" stroke="#0f5799" stroke-width="0.65"/>
<rect x="113.22" y="244.27" width="2.6" height="2.6" fill="none" stroke="#0f5799" stroke-width="0.65"/>
<rect x="110.17" y="245.17" width="2.6" height="2.6" fill="none" stroke="#0f5799" stroke-width="0.65"/>
<rect x="114.23" y="245.73" width="2.6" height="2.6" fill="none" stroke="#0f5799" stroke-width="0.65"/>
<rect x="111.19" y="246.51" width="2.6" height="2.6" fill="none" stroke="#0f5799" stroke-width="0.65"/>
<rect x="114.23" y="247.67" width="2.6" height="2.6" fill="none" stroke="#0f5799" stroke-width="0.65"/>
<rect x="110.17" y="248.24" width="2.6" height="2.6" fill="none" stroke="#0f5799" stroke-width="0.65"/>
<rect x="112.20" y="249.36" width="2.6" height="2.6" fill="none" stroke="#0f5799" stroke-width="0.65"/>
<rect x="114.23" y="251.04" width="2.6" height="2.6" fill="none" stroke="#0f5799" stroke-width="0.65"/>
<rect x="110.17" y="251.87" width="2.6" height="2.6" fill="none" stroke="#0f5799" stroke-width="0.65"/>
<circle cx="123.50" cy="230.60" r="1.42" fill="#fff" fill-opacity="0.0" stroke="#cf1136" stroke-width="0.7"/>
<circle cx="126.50" cy="230.60" r="1.42" fill="#fff" fill-opacity="0.0" stroke="#cf1136" stroke-width="0.7"/>
<circle cx="125.00" cy="237.46" r="1.42" fill="#fff" fill-opacity="0.0" stroke="#cf1136" stroke-width="0.7"/>
<circle cx="125.00" cy="239.81" r="1.42" fill="#fff" fill-opacity="0.0" stroke="#cf1136" stroke-width="0.7"/>
<circle cx="125.98" cy="240.64" r="1.42" fill="#fff" fill-opacity="0.0" stroke="#cf1136" stroke-width="0.7"/>
<circle cx="124.02" cy="241.05" r="1.42" fill="#fff" fill-opacity="0.0" stroke="#cf1136" stroke-width="0.7"/>
<circle cx="125.00" cy="241.77" r="1.42" fill="#fff" fill-opacity="0.0" stroke="#cf1136" stroke-width="0.7"/>
<circle cx="125.00" cy="243.14" r="1.42" fill="#fff" fill-opacity="0.0" stroke="#cf1136" stroke-width="0.7"/>
<circle cx="125.00" cy="245.17" r="1.42" fill="#fff" fill-opacity="0.0" stroke="#cf1136" stroke-width="0.7"/>
<rect x="130.90" y="218.40" width="2.6" height="2.6" fill="none" stroke="#0f5799" stroke-width="0.65"/>
<rect x="130.90" y="223.15" width="2.6" height="2.6" fill="none" stroke="#0f5799" stroke-width="0.65"/>
<rect x="130.90" y="227.13" width="2.6" height="2.6" fill="none" stroke="#0f5799" stroke-width="0.65"/>
<rect x="132.93" y="228.58" width="2.6" height="2.6" fill="none" stroke="#0f5799" stroke-width="0.65"/>
<rect x="128.87" y="229.59" width="2.6" height="2.6" fill="none" stroke="#0f5799" stroke-width="0.65"/>
<rect x="130.90" y="230.58" width="2.6" height="2.6" fill="none" stroke="#0f5799" stroke-width="0.65"/>
<rect x="132.93" y="231.37" width="2.6" height="2.6" fill="none" stroke="#0f5799" stroke-width="0.65"/>
<rect x="128.87" y="232.29" width="2.6" height="2.6" fill="none" stroke="#0f5799" stroke-width="0.65"/>
<rect x="131.91" y="233.82" width="2.6" height="2.6" fill="none" stroke="#0f5799" stroke-width="0.65"/>
<rect x="128.87" y="234.17" width="2.6" height="2.6" fill="none" stroke="#0f5799" stroke-width="0.65"/>
<rect x="132.93" y="235.23" width="2.6" height="2.6" fill="none" stroke="#0f5799" stroke-width="0.65"/>
<rect x="129.88" y="235.70" width="2.6" height="2.6" fill="none" stroke="#0f5799" stroke-width="0.65"/>
<rect x="132.93" y="236.72" width="2.6" height="2.6" fill="none" stroke="#0f5799" stroke-width="0.65"/>
<rect x="128.87" y="237.27" width="2.6" height="2.6" fill="none" stroke="#0f5799" stroke-width="0.65"/>
<rect x="131.91" y="237.82" width="2.6" height="2.6" fill="none" stroke="#0f5799" stroke-width="0.65"/>
<rect x="128.87" y="238.50" width="2.6" height="2.6" fill="none" stroke="#0f5799" stroke-width="0.65"/>
<rect x="132.93" y="239.72" width="2.6" height="2.6" fill="none" stroke="#0f5799" stroke-width="0.65"/>
<rect x="129.88" y="240.17" width="2.6" height="2.6" fill="none" stroke="#0f5799" stroke-width="0.65"/>
<rect x="132.93" y="241.35" width="2.6" height="2.6" fill="none" stroke="#0f5799" stroke-width="0.65"/>
<rect x="129.88" y="243.03" width="2.6" height="2.6" fill="none" stroke="#0f5799" stroke-width="0.65"/>
<rect x="130.90" y="245.83" width="2.6" height="2.6" fill="none" stroke="#0f5799" stroke-width="0.65"/>
<circle cx="143.60" cy="236.20" r="1.42" fill="#fff" fill-opacity="0.0" stroke="#cf1136" stroke-width="0.7"/>
<circle cx="143.60" cy="244.83" r="1.42" fill="#fff" fill-opacity="0.0" stroke="#cf1136" stroke-width="0.7"/>
<circle cx="144.58" cy="245.79" r="1.42" fill="#fff" fill-opacity="0.0" stroke="#cf1136" stroke-width="0.7"/>
<circle cx="143.60" cy="247.13" r="1.42" fill="#fff" fill-opacity="0.0" stroke="#cf1136" stroke-width="0.7"/>
<circle cx="144.58" cy="247.45" r="1.42" fill="#fff" fill-opacity="0.0" stroke="#cf1136" stroke-width="0.7"/>
<circle cx="142.62" cy="248.15" r="1.42" fill="#fff" fill-opacity="0.0" stroke="#cf1136" stroke-width="0.7"/>
<circle cx="143.60" cy="249.52" r="1.42" fill="#fff" fill-opacity="0.0" stroke="#cf1136" stroke-width="0.7"/>
<circle cx="143.60" cy="256.30" r="1.42" fill="#fff" fill-opacity="0.0" stroke="#cf1136" stroke-width="0.7"/>
<circle cx="143.60" cy="259.00" r="1.42" fill="#fff" fill-opacity="0.0" stroke="#cf1136" stroke-width="0.7"/>
<circle cx="143.60" cy="261.00" r="1.42" fill="#fff" fill-opacity="0.0" stroke="#cf1136" stroke-width="0.7"/>
<rect x="149.50" y="221.40" width="2.6" height="2.6" fill="none" stroke="#0f5799" stroke-width="0.65"/>
<rect x="149.50" y="225.50" width="2.6" height="2.6" fill="none" stroke="#0f5799" stroke-width="0.65"/>
<rect x="149.50" y="233.22" width="2.6" height="2.6" fill="none" stroke="#0f5799" stroke-width="0.65"/>
<rect x="151.53" y="234.64" width="2.6" height="2.6" fill="none" stroke="#0f5799" stroke-width="0.65"/>
<rect x="148.48" y="236.16" width="2.6" height="2.6" fill="none" stroke="#0f5799" stroke-width="0.65"/>
<rect x="151.53" y="237.40" width="2.6" height="2.6" fill="none" stroke="#0f5799" stroke-width="0.65"/>
<rect x="147.47" y="238.45" width="2.6" height="2.6" fill="none" stroke="#0f5799" stroke-width="0.65"/>
<rect x="150.51" y="238.98" width="2.6" height="2.6" fill="none" stroke="#0f5799" stroke-width="0.65"/>
<rect x="147.47" y="239.86" width="2.6" height="2.6" fill="none" stroke="#0f5799" stroke-width="0.65"/>
<rect x="151.53" y="240.82" width="2.6" height="2.6" fill="none" stroke="#0f5799" stroke-width="0.65"/>
<rect x="148.48" y="241.48" width="2.6" height="2.6" fill="none" stroke="#0f5799" stroke-width="0.65"/>
<rect x="151.53" y="241.93" width="2.6" height="2.6" fill="none" stroke="#0f5799" stroke-width="0.65"/>
<rect x="147.47" y="242.59" width="2.6" height="2.6" fill="none" stroke="#0f5799" stroke-width="0.65"/>
<rect x="150.51" y="243.21" width="2.6" height="2.6" fill="none" stroke="#0f5799" stroke-width="0.65"/>
<rect x="147.47" y="243.68" width="2.6" height="2.6" fill="none" stroke="#0f5799" stroke-width="0.65"/>
<rect x="150.51" y="244.39" width="2.6" height="2.6" fill="none" stroke="#0f5799" stroke-width="0.65"/>
<rect x="147.47" y="245.24" width="2.6" height="2.6" fill="none" stroke="#0f5799" stroke-width="0.65"/>
<rect x="151.53" y="247.02" width="2.6" height="2.6" fill="none" stroke="#0f5799" stroke-width="0.65"/>
<rect x="148.48" y="248.15" width="2.6" height="2.6" fill="none" stroke="#0f5799" stroke-width="0.65"/>
<rect x="149.50" y="251.01" width="2.6" height="2.6" fill="none" stroke="#0f5799" stroke-width="0.65"/>
<circle cx="160.70" cy="242.10" r="1.42" fill="#fff" fill-opacity="0.0" stroke="#cf1136" stroke-width="0.7"/>
<circle cx="163.70" cy="242.10" r="1.42" fill="#fff" fill-opacity="0.0" stroke="#cf1136" stroke-width="0.7"/>
<circle cx="162.20" cy="249.61" r="1.42" fill="#fff" fill-opacity="0.0" stroke="#cf1136" stroke-width="0.7"/>
<circle cx="162.20" cy="252.60" r="1.42" fill="#fff" fill-opacity="0.0" stroke="#cf1136" stroke-width="0.7"/>
<circle cx="163.18" cy="253.60" r="1.42" fill="#fff" fill-opacity="0.0" stroke="#cf1136" stroke-width="0.7"/>
<circle cx="162.20" cy="254.78" r="1.42" fill="#fff" fill-opacity="0.0" stroke="#cf1136" stroke-width="0.7"/>
<circle cx="163.18" cy="255.55" r="1.42" fill="#fff" fill-opacity="0.0" stroke="#cf1136" stroke-width="0.7"/>
<circle cx="162.20" cy="258.67" r="1.42" fill="#fff" fill-opacity="0.0" stroke="#cf1136" stroke-width="0.7"/>
<rect x="168.10" y="227.60" width="2.6" height="2.6" fill="none" stroke="#0f5799" stroke-width="0.65"/>
<rect x="168.10" y="233.99" width="2.6" height="2.6" fill="none" stroke="#0f5799" stroke-width="0.65"/>
<rect x="168.10" y="237.55" width="2.6" height="2.6" fill="none" stroke="#0f5799" stroke-width="0.65"/>
<rect x="170.13" y="239.24" width="2.6" height="2.6" fill="none" stroke="#0f5799" stroke-width="0.65"/>
<rect x="167.08" y="240.58" width="2.6" height="2.6" fill="none" stroke="#0f5799" stroke-width="0.65"/>
<rect x="170.13" y="241.47" width="2.6" height="2.6" fill="none" stroke="#0f5799" stroke-width="0.65"/>
<rect x="166.07" y="242.38" width="2.6" height="2.6" fill="none" stroke="#0f5799" stroke-width="0.65"/>
<rect x="168.10" y="243.29" width="2.6" height="2.6" fill="none" stroke="#0f5799" stroke-width="0.65"/>
<rect x="170.13" y="244.15" width="2.6" height="2.6" fill="none" stroke="#0f5799" stroke-width="0.65"/>
<rect x="166.07" y="244.56" width="2.6" height="2.6" fill="none" stroke="#0f5799" stroke-width="0.65"/>
<rect x="170.13" y="245.45" width="2.6" height="2.6" fill="none" stroke="#0f5799" stroke-width="0.65"/>
<rect x="168.10" y="246.29" width="2.6" height="2.6" fill="none" stroke="#0f5799" stroke-width="0.65"/>
<rect x="166.07" y="247.04" width="2.6" height="2.6" fill="none" stroke="#0f5799" stroke-width="0.65"/>
<rect x="170.13" y="247.55" width="2.6" height="2.6" fill="none" stroke="#0f5799" stroke-width="0.65"/>
<rect x="167.08" y="248.68" width="2.6" height="2.6" fill="none" stroke="#0f5799" stroke-width="0.65"/>
<rect x="170.13" y="249.71" width="2.6" height="2.6" fill="none" stroke="#0f5799" stroke-width="0.65"/>
<rect x="166.07" y="250.55" width="2.6" height="2.6" fill="none" stroke="#0f5799" stroke-width="0.65"/>
<rect x="168.10" y="251.84" width="2.6" height="2.6" fill="none" stroke="#0f5799" stroke-width="0.65"/>
<rect x="170.13" y="253.05" width="2.6" height="2.6" fill="none" stroke="#0f5799" stroke-width="0.65"/>
<rect x="168.10" y="255.61" width="2.6" height="2.6" fill="none" stroke="#0f5799" stroke-width="0.65"/>
<rect x="168.10" y="264.50" width="2.6" height="2.6" fill="none" stroke="#0f5799" stroke-width="0.65"/>
<circle cx="180.80" cy="248.30" r="1.42" fill="#fff" fill-opacity="0.0" stroke="#cf1136" stroke-width="0.7"/>
<circle cx="180.80" cy="256.14" r="1.42" fill="#fff" fill-opacity="0.0" stroke="#cf1136" stroke-width="0.7"/>
<circle cx="181.78" cy="256.49" r="1.42" fill="#fff" fill-opacity="0.0" stroke="#cf1136" stroke-width="0.7"/>
<circle cx="179.82" cy="257.08" r="1.42" fill="#fff" fill-opacity="0.0" stroke="#cf1136" stroke-width="0.7"/>
<circle cx="180.80" cy="257.47" r="1.42" fill="#fff" fill-opacity="0.0" stroke="#cf1136" stroke-width="0.7"/>
<circle cx="181.78" cy="257.73" r="1.42" fill="#fff" fill-opacity="0.0" stroke="#cf1136" stroke-width="0.7"/>
<circle cx="179.82" cy="258.03" r="1.42" fill="#fff" fill-opacity="0.0" stroke="#cf1136" stroke-width="0.7"/>
<circle cx="180.80" cy="258.31" r="1.42" fill="#fff" fill-opacity="0.0" stroke="#cf1136" stroke-width="0.7"/>
<circle cx="181.78" cy="259.09" r="1.42" fill="#fff" fill-opacity="0.0" stroke="#cf1136" stroke-width="0.7"/>
<circle cx="180.80" cy="273.30" r="1.42" fill="#fff" fill-opacity="0.0" stroke="#cf1136" stroke-width="0.7"/>
<circle cx="180.80" cy="277.60" r="1.42" fill="#fff" fill-opacity="0.0" stroke="#cf1136" stroke-width="0.7"/>
<rect x="186.70" y="238.78" width="2.6" height="2.6" fill="none" stroke="#0f5799" stroke-width="0.65"/>
<rect x="188.73" y="241.18" width="2.6" height="2.6" fill="none" stroke="#0f5799" stroke-width="0.65"/>
<rect x="186.70" y="243.62" width="2.6" height="2.6" fill="none" stroke="#0f5799" stroke-width="0.65"/>
<rect x="188.73" y="244.23" width="2.6" height="2.6" fill="none" stroke="#0f5799" stroke-width="0.65"/>
<rect x="185.69" y="246.28" width="2.6" height="2.6" fill="none" stroke="#0f5799" stroke-width="0.65"/>
<rect x="188.73" y="246.79" width="2.6" height="2.6" fill="none" stroke="#0f5799" stroke-width="0.65"/>
<rect x="184.67" y="248.39" width="2.6" height="2.6" fill="none" stroke="#0f5799" stroke-width="0.65"/>
<rect x="187.71" y="249.29" width="2.6" height="2.6" fill="none" stroke="#0f5799" stroke-width="0.65"/>
<rect x="184.67" y="250.05" width="2.6" height="2.6" fill="none" stroke="#0f5799" stroke-width="0.65"/>
<rect x="188.73" y="251.26" width="2.6" height="2.6" fill="none" stroke="#0f5799" stroke-width="0.65"/>
<rect x="185.69" y="251.97" width="2.6" height="2.6" fill="none" stroke="#0f5799" stroke-width="0.65"/>
<rect x="188.73" y="252.94" width="2.6" height="2.6" fill="none" stroke="#0f5799" stroke-width="0.65"/>
<rect x="184.67" y="254.12" width="2.6" height="2.6" fill="none" stroke="#0f5799" stroke-width="0.65"/>
<rect x="187.71" y="254.59" width="2.6" height="2.6" fill="none" stroke="#0f5799" stroke-width="0.65"/>
<rect x="184.67" y="255.44" width="2.6" height="2.6" fill="none" stroke="#0f5799" stroke-width="0.65"/>
<rect x="188.73" y="256.87" width="2.6" height="2.6" fill="none" stroke="#0f5799" stroke-width="0.65"/>
<rect x="185.69" y="258.59" width="2.6" height="2.6" fill="none" stroke="#0f5799" stroke-width="0.65"/>
<rect x="188.73" y="259.54" width="2.6" height="2.6" fill="none" stroke="#0f5799" stroke-width="0.65"/>
<rect x="184.67" y="261.26" width="2.6" height="2.6" fill="none" stroke="#0f5799" stroke-width="0.65"/>
<rect x="186.70" y="266.08" width="2.6" height="2.6" fill="none" stroke="#0f5799" stroke-width="0.65"/>
<rect x="186.70" y="270.50" width="2.6" height="2.6" fill="none" stroke="#0f5799" stroke-width="0.65"/>
<circle cx="199.80" cy="246.60" r="1.42" fill="#fff" fill-opacity="0.0" stroke="#cf1136" stroke-width="0.7"/>
<circle cx="199.80" cy="250.50" r="1.42" fill="#fff" fill-opacity="0.0" stroke="#cf1136" stroke-width="0.7"/>
<circle cx="199.80" cy="256.61" r="1.42" fill="#fff" fill-opacity="0.0" stroke="#cf1136" stroke-width="0.7"/>
<circle cx="200.78" cy="257.30" r="1.42" fill="#fff" fill-opacity="0.0" stroke="#cf1136" stroke-width="0.7"/>
<circle cx="199.80" cy="258.08" r="1.42" fill="#fff" fill-opacity="0.0" stroke="#cf1136" stroke-width="0.7"/>
<circle cx="198.82" cy="258.34" r="1.42" fill="#fff" fill-opacity="0.0" stroke="#cf1136" stroke-width="0.7"/>
<circle cx="200.78" cy="258.95" r="1.42" fill="#fff" fill-opacity="0.0" stroke="#cf1136" stroke-width="0.7"/>
<circle cx="199.80" cy="259.31" r="1.42" fill="#fff" fill-opacity="0.0" stroke="#cf1136" stroke-width="0.7"/>
<circle cx="200.78" cy="260.27" r="1.42" fill="#fff" fill-opacity="0.0" stroke="#cf1136" stroke-width="0.7"/>
<circle cx="199.80" cy="265.20" r="1.42" fill="#fff" fill-opacity="0.0" stroke="#cf1136" stroke-width="0.7"/>
<circle cx="199.80" cy="268.30" r="1.42" fill="#fff" fill-opacity="0.0" stroke="#cf1136" stroke-width="0.7"/>
<rect x="205.70" y="244.38" width="2.6" height="2.6" fill="none" stroke="#0f5799" stroke-width="0.65"/>
<rect x="207.73" y="246.31" width="2.6" height="2.6" fill="none" stroke="#0f5799" stroke-width="0.65"/>
<rect x="204.69" y="247.57" width="2.6" height="2.6" fill="none" stroke="#0f5799" stroke-width="0.65"/>
<rect x="207.73" y="248.24" width="2.6" height="2.6" fill="none" stroke="#0f5799" stroke-width="0.65"/>
<rect x="203.67" y="249.38" width="2.6" height="2.6" fill="none" stroke="#0f5799" stroke-width="0.65"/>
<rect x="206.71" y="250.07" width="2.6" height="2.6" fill="none" stroke="#0f5799" stroke-width="0.65"/>
<rect x="203.67" y="250.77" width="2.6" height="2.6" fill="none" stroke="#0f5799" stroke-width="0.65"/>
<rect x="207.73" y="251.74" width="2.6" height="2.6" fill="none" stroke="#0f5799" stroke-width="0.65"/>
<rect x="205.70" y="252.61" width="2.6" height="2.6" fill="none" stroke="#0f5799" stroke-width="0.65"/>
<rect x="203.67" y="253.26" width="2.6" height="2.6" fill="none" stroke="#0f5799" stroke-width="0.65"/>
<rect x="207.73" y="253.82" width="2.6" height="2.6" fill="none" stroke="#0f5799" stroke-width="0.65"/>
<rect x="203.67" y="254.61" width="2.6" height="2.6" fill="none" stroke="#0f5799" stroke-width="0.65"/>
<rect x="207.73" y="254.93" width="2.6" height="2.6" fill="none" stroke="#0f5799" stroke-width="0.65"/>
<rect x="205.70" y="255.60" width="2.6" height="2.6" fill="none" stroke="#0f5799" stroke-width="0.65"/>
<rect x="203.67" y="256.57" width="2.6" height="2.6" fill="none" stroke="#0f5799" stroke-width="0.65"/>
<rect x="207.73" y="257.32" width="2.6" height="2.6" fill="none" stroke="#0f5799" stroke-width="0.65"/>
<rect x="204.69" y="258.23" width="2.6" height="2.6" fill="none" stroke="#0f5799" stroke-width="0.65"/>
<rect x="207.73" y="259.52" width="2.6" height="2.6" fill="none" stroke="#0f5799" stroke-width="0.65"/>
<rect x="204.69" y="261.16" width="2.6" height="2.6" fill="none" stroke="#0f5799" stroke-width="0.65"/>
<rect x="207.73" y="263.01" width="2.6" height="2.6" fill="none" stroke="#0f5799" stroke-width="0.65"/>
<rect x="205.70" y="271.40" width="2.6" height="2.6" fill="none" stroke="#0f5799" stroke-width="0.65"/>
<text x="0" y="0" font-size="8.56" text-anchor="middle" font-weight="normal" fill="#222" transform="translate(128.70,172.60) scale(0.9346,1)" >CD4 immune checkpoints</text>
<text x="7.20" y="173.20" font-size="10.8" font-weight="bold" fill="#000" stroke="#000" stroke-width="0.35">E</text>
<text x="0" y="0" font-size="6.6" text-anchor="middle" fill="#222" stroke="#222" stroke-width="0.12" transform="translate(21.00,237.50) rotate(-90)" textLength="46.2" lengthAdjust="spacingAndGlyphs">% of CD4+ T cells</text>
<line x1="268.70" y1="187.00" x2="268.70" y2="283.90" stroke="#1a1a1a" stroke-width="1.1"/>
<line x1="268.70" y1="283.90" x2="440.00" y2="283.90" stroke="#1a1a1a" stroke-width="1.1"/>
<line x1="266.10" y1="188.50" x2="268.70" y2="188.50" stroke="#1a1a1a" stroke-width="0.9"/>
<text x="0" y="0" font-size="6.72" text-anchor="end" fill="#2a2a2a" stroke="#2a2a2a" stroke-width="0.05" transform="translate(263.30,190.60) scale(0.8929,1)" >100</text>
<line x1="267.10" y1="201.84" x2="268.70" y2="201.84" stroke="#1a1a1a" stroke-width="0.6"/>
<line x1="267.10" y1="198.48" x2="268.70" y2="198.48" stroke="#1a1a1a" stroke-width="0.6"/>
<line x1="267.10" y1="196.09" x2="268.70" y2="196.09" stroke="#1a1a1a" stroke-width="0.6"/>
<line x1="267.10" y1="194.24" x2="268.70" y2="194.24" stroke="#1a1a1a" stroke-width="0.6"/>
<line x1="267.10" y1="192.73" x2="268.70" y2="192.73" stroke="#1a1a1a" stroke-width="0.6"/>
<line x1="267.10" y1="191.46" x2="268.70" y2="191.46" stroke="#1a1a1a" stroke-width="0.6"/>
<line x1="267.10" y1="190.35" x2="268.70" y2="190.35" stroke="#1a1a1a" stroke-width="0.6"/>
<line x1="267.10" y1="189.37" x2="268.70" y2="189.37" stroke="#1a1a1a" stroke-width="0.6"/>
<line x1="266.10" y1="207.58" x2="268.70" y2="207.58" stroke="#1a1a1a" stroke-width="0.9"/>
<text x="0" y="0" font-size="6.72" text-anchor="end" fill="#2a2a2a" stroke="#2a2a2a" stroke-width="0.05" transform="translate(263.30,209.68) scale(0.8929,1)" >10</text>
<line x1="267.10" y1="220.92" x2="268.70" y2="220.92" stroke="#1a1a1a" stroke-width="0.6"/>
<line x1="267.10" y1="217.56" x2="268.70" y2="217.56" stroke="#1a1a1a" stroke-width="0.6"/>
<line x1="267.10" y1="215.17" x2="268.70" y2="215.17" stroke="#1a1a1a" stroke-width="0.6"/>
<line x1="267.10" y1="213.32" x2="268.70" y2="213.32" stroke="#1a1a1a" stroke-width="0.6"/>
<line x1="267.10" y1="211.81" x2="268.70" y2="211.81" stroke="#1a1a1a" stroke-width="0.6"/>
<line x1="267.10" y1="210.54" x2="268.70" y2="210.54" stroke="#1a1a1a" stroke-width="0.6"/>
<line x1="267.10" y1="209.43" x2="268.70" y2="209.43" stroke="#1a1a1a" stroke-width="0.6"/>
<line x1="267.10" y1="208.45" x2="268.70" y2="208.45" stroke="#1a1a1a" stroke-width="0.6"/>
<line x1="266.10" y1="226.66" x2="268.70" y2="226.66" stroke="#1a1a1a" stroke-width="0.9"/>
<text x="0" y="0" font-size="6.72" text-anchor="end" fill="#2a2a2a" stroke="#2a2a2a" stroke-width="0.05" transform="translate(263.30,228.76) scale(0.8929,1)" >1</text>
<line x1="267.10" y1="240.00" x2="268.70" y2="240.00" stroke="#1a1a1a" stroke-width="0.6"/>
<line x1="267.10" y1="236.64" x2="268.70" y2="236.64" stroke="#1a1a1a" stroke-width="0.6"/>
<line x1="267.10" y1="234.25" x2="268.70" y2="234.25" stroke="#1a1a1a" stroke-width="0.6"/>
<line x1="267.10" y1="232.40" x2="268.70" y2="232.40" stroke="#1a1a1a" stroke-width="0.6"/>
<line x1="267.10" y1="230.89" x2="268.70" y2="230.89" stroke="#1a1a1a" stroke-width="0.6"/>
<line x1="267.10" y1="229.62" x2="268.70" y2="229.62" stroke="#1a1a1a" stroke-width="0.6"/>
<line x1="267.10" y1="228.51" x2="268.70" y2="228.51" stroke="#1a1a1a" stroke-width="0.6"/>
<line x1="267.10" y1="227.53" x2="268.70" y2="227.53" stroke="#1a1a1a" stroke-width="0.6"/>
<line x1="266.10" y1="245.74" x2="268.70" y2="245.74" stroke="#1a1a1a" stroke-width="0.9"/>
<text x="0" y="0" font-size="6.72" text-anchor="end" fill="#2a2a2a" stroke="#2a2a2a" stroke-width="0.05" transform="translate(263.30,247.84) scale(0.8929,1)" >0.1</text>
<line x1="267.10" y1="259.08" x2="268.70" y2="259.08" stroke="#1a1a1a" stroke-width="0.6"/>
<line x1="267.10" y1="255.72" x2="268.70" y2="255.72" stroke="#1a1a1a" stroke-width="0.6"/>
<line x1="267.10" y1="253.33" x2="268.70" y2="253.33" stroke="#1a1a1a" stroke-width="0.6"/>
<line x1="267.10" y1="251.48" x2="268.70" y2="251.48" stroke="#1a1a1a" stroke-width="0.6"/>
<line x1="267.10" y1="249.97" x2="268.70" y2="249.97" stroke="#1a1a1a" stroke-width="0.6"/>
<line x1="267.10" y1="248.70" x2="268.70" y2="248.70" stroke="#1a1a1a" stroke-width="0.6"/>
<line x1="267.10" y1="247.59" x2="268.70" y2="247.59" stroke="#1a1a1a" stroke-width="0.6"/>
<line x1="267.10" y1="246.61" x2="268.70" y2="246.61" stroke="#1a1a1a" stroke-width="0.6"/>
<line x1="266.10" y1="264.82" x2="268.70" y2="264.82" stroke="#1a1a1a" stroke-width="0.9"/>
<text x="0" y="0" font-size="6.72" text-anchor="end" fill="#2a2a2a" stroke="#2a2a2a" stroke-width="0.05" transform="translate(263.30,266.92) scale(0.8929,1)" >0.01</text>
<line x1="267.10" y1="278.16" x2="268.70" y2="278.16" stroke="#1a1a1a" stroke-width="0.6"/>
<line x1="267.10" y1="274.80" x2="268.70" y2="274.80" stroke="#1a1a1a" stroke-width="0.6"/>
<line x1="267.10" y1="272.41" x2="268.70" y2="272.41" stroke="#1a1a1a" stroke-width="0.6"/>
<line x1="267.10" y1="270.56" x2="268.70" y2="270.56" stroke="#1a1a1a" stroke-width="0.6"/>
<line x1="267.10" y1="269.05" x2="268.70" y2="269.05" stroke="#1a1a1a" stroke-width="0.6"/>
<line x1="267.10" y1="267.78" x2="268.70" y2="267.78" stroke="#1a1a1a" stroke-width="0.6"/>
<line x1="267.10" y1="266.67" x2="268.70" y2="266.67" stroke="#1a1a1a" stroke-width="0.6"/>
<line x1="267.10" y1="265.69" x2="268.70" y2="265.69" stroke="#1a1a1a" stroke-width="0.6"/>
<line x1="266.10" y1="283.90" x2="268.70" y2="283.90" stroke="#1a1a1a" stroke-width="0.9"/>
<text x="0" y="0" font-size="6.72" text-anchor="end" fill="#2a2a2a" stroke="#2a2a2a" stroke-width="0.05" transform="translate(263.30,286.00) scale(0.8929,1)" >0.001</text>
<line x1="278.70" y1="283.90" x2="278.70" y2="286.10" stroke="#1a1a1a" stroke-width="0.9"/>
<text x="0" y="0" font-size="6.95" text-anchor="end" fill="#2a2a2a" stroke="#2a2a2a" stroke-width="0.05" transform="translate(278.40,292.00) rotate(-45) scale(0.89,1)">PD-1</text>
<line x1="297.63" y1="283.90" x2="297.63" y2="286.10" stroke="#1a1a1a" stroke-width="0.9"/>
<text x="0" y="0" font-size="6.95" text-anchor="end" fill="#2a2a2a" stroke="#2a2a2a" stroke-width="0.05" transform="translate(297.33,292.00) rotate(-45) scale(0.89,1)">HLA-DR</text>
<line x1="316.56" y1="283.90" x2="316.56" y2="286.10" stroke="#1a1a1a" stroke-width="0.9"/>
<text x="0" y="0" font-size="6.95" text-anchor="end" fill="#2a2a2a" stroke="#2a2a2a" stroke-width="0.05" transform="translate(316.26,292.00) rotate(-45) scale(0.89,1)">TIM3</text>
<line x1="335.49" y1="283.90" x2="335.49" y2="286.10" stroke="#1a1a1a" stroke-width="0.9"/>
<text x="0" y="0" font-size="6.95" text-anchor="end" fill="#2a2a2a" stroke="#2a2a2a" stroke-width="0.05" transform="translate(335.19,292.00) rotate(-45) scale(0.89,1)">4-1BB</text>
<line x1="354.42" y1="283.90" x2="354.42" y2="286.10" stroke="#1a1a1a" stroke-width="0.9"/>
<text x="0" y="0" font-size="6.95" text-anchor="end" fill="#2a2a2a" stroke="#2a2a2a" stroke-width="0.05" transform="translate(354.12,292.00) rotate(-45) scale(0.89,1)">PD-1 HLA-DR</text>
<line x1="373.35" y1="283.90" x2="373.35" y2="286.10" stroke="#1a1a1a" stroke-width="0.9"/>
<text x="0" y="0" font-size="6.95" text-anchor="end" fill="#2a2a2a" stroke="#2a2a2a" stroke-width="0.05" transform="translate(373.05,292.00) rotate(-45) scale(0.89,1)">PD-1 TIM3</text>
<line x1="392.28" y1="283.90" x2="392.28" y2="286.10" stroke="#1a1a1a" stroke-width="0.9"/>
<text x="0" y="0" font-size="6.95" text-anchor="end" fill="#2a2a2a" stroke="#2a2a2a" stroke-width="0.05" transform="translate(391.98,292.00) rotate(-45) scale(0.89,1)">PD-1 41BB</text>
<line x1="411.21" y1="283.90" x2="411.21" y2="286.10" stroke="#1a1a1a" stroke-width="0.9"/>
<text x="0" y="0" font-size="6.95" text-anchor="end" fill="#2a2a2a" stroke="#2a2a2a" stroke-width="0.05" transform="translate(410.91,292.00) rotate(-45) scale(0.89,1)">HLA-DR TIM3</text>
<line x1="430.14" y1="283.90" x2="430.14" y2="286.10" stroke="#1a1a1a" stroke-width="0.9"/>
<text x="0" y="0" font-size="6.95" text-anchor="end" fill="#2a2a2a" stroke="#2a2a2a" stroke-width="0.05" transform="translate(429.84,292.00) rotate(-45) scale(0.89,1)">HLA-DR 41BB</text>
<line x1="272.80" y1="185.10" x2="282.60" y2="185.10" stroke="#383838" stroke-width="1.0"/>
<line x1="272.80" y1="183.40" x2="272.80" y2="186.80" stroke="#383838" stroke-width="1.0"/>
<line x1="282.60" y1="183.40" x2="282.60" y2="186.80" stroke="#383838" stroke-width="1.0"/>
<circle cx="277.70" cy="181.50" r="0.72" fill="#333"/>
<line x1="294.10" y1="185.10" x2="303.90" y2="185.10" stroke="#383838" stroke-width="1.0"/>
<line x1="294.10" y1="183.40" x2="294.10" y2="186.80" stroke="#383838" stroke-width="1.0"/>
<line x1="303.90" y1="183.40" x2="303.90" y2="186.80" stroke="#383838" stroke-width="1.0"/>
<line x1="313.60" y1="185.10" x2="323.40" y2="185.10" stroke="#383838" stroke-width="1.0"/>
<line x1="313.60" y1="183.40" x2="313.60" y2="186.80" stroke="#383838" stroke-width="1.0"/>
<line x1="323.40" y1="183.40" x2="323.40" y2="186.80" stroke="#383838" stroke-width="1.0"/>
<circle cx="316.20" cy="181.50" r="0.72" fill="#333"/>
<circle cx="318.50" cy="181.50" r="0.72" fill="#333"/>
<circle cx="320.80" cy="181.50" r="0.72" fill="#333"/>
<line x1="332.60" y1="185.10" x2="342.40" y2="185.10" stroke="#383838" stroke-width="1.0"/>
<line x1="332.60" y1="183.40" x2="332.60" y2="186.80" stroke="#383838" stroke-width="1.0"/>
<line x1="342.40" y1="183.40" x2="342.40" y2="186.80" stroke="#383838" stroke-width="1.0"/>
<circle cx="336.35" cy="181.50" r="0.72" fill="#333"/>
<circle cx="338.65" cy="181.50" r="0.72" fill="#333"/>
<line x1="351.00" y1="185.10" x2="360.80" y2="185.10" stroke="#383838" stroke-width="1.0"/>
<line x1="351.00" y1="183.40" x2="351.00" y2="186.80" stroke="#383838" stroke-width="1.0"/>
<line x1="360.80" y1="183.40" x2="360.80" y2="186.80" stroke="#383838" stroke-width="1.0"/>
<circle cx="355.90" cy="181.50" r="0.72" fill="#333"/>
<line x1="370.50" y1="185.10" x2="380.30" y2="185.10" stroke="#383838" stroke-width="1.0"/>
<line x1="370.50" y1="183.40" x2="370.50" y2="186.80" stroke="#383838" stroke-width="1.0"/>
<line x1="380.30" y1="183.40" x2="380.30" y2="186.80" stroke="#383838" stroke-width="1.0"/>
<circle cx="374.25" cy="181.50" r="0.72" fill="#333"/>
<circle cx="376.55" cy="181.50" r="0.72" fill="#333"/>
<line x1="389.40" y1="185.10" x2="399.20" y2="185.10" stroke="#383838" stroke-width="1.0"/>
<line x1="389.40" y1="183.40" x2="389.40" y2="186.80" stroke="#383838" stroke-width="1.0"/>
<line x1="399.20" y1="183.40" x2="399.20" y2="186.80" stroke="#383838" stroke-width="1.0"/>
<circle cx="393.15" cy="181.50" r="0.72" fill="#333"/>
<circle cx="395.45" cy="181.50" r="0.72" fill="#333"/>
<line x1="408.60" y1="185.10" x2="418.40" y2="185.10" stroke="#383838" stroke-width="1.0"/>
<line x1="408.60" y1="183.40" x2="408.60" y2="186.80" stroke="#383838" stroke-width="1.0"/>
<line x1="418.40" y1="183.40" x2="418.40" y2="186.80" stroke="#383838" stroke-width="1.0"/>
<circle cx="413.50" cy="181.50" r="0.72" fill="#333"/>
<line x1="427.50" y1="185.10" x2="437.30" y2="185.10" stroke="#383838" stroke-width="1.0"/>
<line x1="427.50" y1="183.40" x2="427.50" y2="186.80" stroke="#383838" stroke-width="1.0"/>
<line x1="437.30" y1="183.40" x2="437.30" y2="186.80" stroke="#383838" stroke-width="1.0"/>
<circle cx="431.25" cy="181.50" r="0.72" fill="#333"/>
<circle cx="433.55" cy="181.50" r="0.72" fill="#333"/>
<text x="298.80" y="180.70" font-size="6.2" text-anchor="middle" fill="#333"><tspan font-style="italic">P</tspan> = .067</text>
<circle cx="275.00" cy="198.47" r="1.42" fill="#fff" fill-opacity="0.0" stroke="#cf1136" stroke-width="0.7"/>
<circle cx="275.98" cy="199.28" r="1.42" fill="#fff" fill-opacity="0.0" stroke="#cf1136" stroke-width="0.7"/>
<circle cx="275.00" cy="199.85" r="1.42" fill="#fff" fill-opacity="0.0" stroke="#cf1136" stroke-width="0.7"/>
<circle cx="274.02" cy="200.03" r="1.42" fill="#fff" fill-opacity="0.0" stroke="#cf1136" stroke-width="0.7"/>
<circle cx="275.98" cy="200.77" r="1.42" fill="#fff" fill-opacity="0.0" stroke="#cf1136" stroke-width="0.7"/>
<circle cx="275.00" cy="201.33" r="1.42" fill="#fff" fill-opacity="0.0" stroke="#cf1136" stroke-width="0.7"/>
<circle cx="275.98" cy="202.35" r="1.42" fill="#fff" fill-opacity="0.0" stroke="#cf1136" stroke-width="0.7"/>
<circle cx="275.00" cy="205.40" r="1.42" fill="#fff" fill-opacity="0.0" stroke="#cf1136" stroke-width="0.7"/>
<circle cx="275.00" cy="207.90" r="1.42" fill="#fff" fill-opacity="0.0" stroke="#cf1136" stroke-width="0.7"/>
<circle cx="275.00" cy="211.00" r="1.42" fill="#fff" fill-opacity="0.0" stroke="#cf1136" stroke-width="0.7"/>
<rect x="281.10" y="192.65" width="2.6" height="2.6" fill="none" stroke="#0f5799" stroke-width="0.65"/>
<rect x="283.13" y="193.91" width="2.6" height="2.6" fill="none" stroke="#0f5799" stroke-width="0.65"/>
<rect x="279.07" y="194.76" width="2.6" height="2.6" fill="none" stroke="#0f5799" stroke-width="0.65"/>
<rect x="282.11" y="195.21" width="2.6" height="2.6" fill="none" stroke="#0f5799" stroke-width="0.65"/>
<rect x="279.07" y="195.79" width="2.6" height="2.6" fill="none" stroke="#0f5799" stroke-width="0.65"/>
<rect x="282.11" y="196.07" width="2.6" height="2.6" fill="none" stroke="#0f5799" stroke-width="0.65"/>
<rect x="279.07" y="196.49" width="2.6" height="2.6" fill="none" stroke="#0f5799" stroke-width="0.65"/>
<rect x="283.13" y="197.08" width="2.6" height="2.6" fill="none" stroke="#0f5799" stroke-width="0.65"/>
<rect x="280.08" y="197.40" width="2.6" height="2.6" fill="none" stroke="#0f5799" stroke-width="0.65"/>
<rect x="283.13" y="197.87" width="2.6" height="2.6" fill="none" stroke="#0f5799" stroke-width="0.65"/>
<rect x="280.08" y="198.41" width="2.6" height="2.6" fill="none" stroke="#0f5799" stroke-width="0.65"/>
<rect x="283.13" y="198.74" width="2.6" height="2.6" fill="none" stroke="#0f5799" stroke-width="0.65"/>
<rect x="279.07" y="199.13" width="2.6" height="2.6" fill="none" stroke="#0f5799" stroke-width="0.65"/>
<rect x="282.11" y="199.98" width="2.6" height="2.6" fill="none" stroke="#0f5799" stroke-width="0.65"/>
<rect x="279.07" y="200.49" width="2.6" height="2.6" fill="none" stroke="#0f5799" stroke-width="0.65"/>
<rect x="282.11" y="201.17" width="2.6" height="2.6" fill="none" stroke="#0f5799" stroke-width="0.65"/>
<rect x="279.07" y="201.89" width="2.6" height="2.6" fill="none" stroke="#0f5799" stroke-width="0.65"/>
<rect x="283.13" y="203.00" width="2.6" height="2.6" fill="none" stroke="#0f5799" stroke-width="0.65"/>
<rect x="280.08" y="203.54" width="2.6" height="2.6" fill="none" stroke="#0f5799" stroke-width="0.65"/>
<rect x="282.11" y="205.64" width="2.6" height="2.6" fill="none" stroke="#0f5799" stroke-width="0.65"/>
<circle cx="293.60" cy="214.70" r="1.42" fill="#fff" fill-opacity="0.0" stroke="#cf1136" stroke-width="0.7"/>
<circle cx="293.60" cy="218.50" r="1.42" fill="#fff" fill-opacity="0.0" stroke="#cf1136" stroke-width="0.7"/>
<circle cx="293.60" cy="225.97" r="1.42" fill="#fff" fill-opacity="0.0" stroke="#cf1136" stroke-width="0.7"/>
<circle cx="293.60" cy="227.23" r="1.42" fill="#fff" fill-opacity="0.0" stroke="#cf1136" stroke-width="0.7"/>
<circle cx="294.58" cy="227.99" r="1.42" fill="#fff" fill-opacity="0.0" stroke="#cf1136" stroke-width="0.7"/>
<circle cx="292.62" cy="228.41" r="1.42" fill="#fff" fill-opacity="0.0" stroke="#cf1136" stroke-width="0.7"/>
<circle cx="293.60" cy="228.84" r="1.42" fill="#fff" fill-opacity="0.0" stroke="#cf1136" stroke-width="0.7"/>
<circle cx="294.58" cy="229.50" r="1.42" fill="#fff" fill-opacity="0.0" stroke="#cf1136" stroke-width="0.7"/>
<circle cx="293.60" cy="230.21" r="1.42" fill="#fff" fill-opacity="0.0" stroke="#cf1136" stroke-width="0.7"/>
<circle cx="294.58" cy="230.88" r="1.42" fill="#fff" fill-opacity="0.0" stroke="#cf1136" stroke-width="0.7"/>
<circle cx="293.60" cy="231.81" r="1.42" fill="#fff" fill-opacity="0.0" stroke="#cf1136" stroke-width="0.7"/>
<rect x="299.70" y="200.40" width="2.6" height="2.6" fill="none" stroke="#0f5799" stroke-width="0.65"/>
<rect x="299.70" y="206.00" width="2.6" height="2.6" fill="none" stroke="#0f5799" stroke-width="0.65"/>
<rect x="299.70" y="212.03" width="2.6" height="2.6" fill="none" stroke="#0f5799" stroke-width="0.65"/>
<rect x="301.73" y="213.02" width="2.6" height="2.6" fill="none" stroke="#0f5799" stroke-width="0.65"/>
<rect x="297.67" y="214.15" width="2.6" height="2.6" fill="none" stroke="#0f5799" stroke-width="0.65"/>
<rect x="300.71" y="215.15" width="2.6" height="2.6" fill="none" stroke="#0f5799" stroke-width="0.65"/>
<rect x="297.67" y="216.18" width="2.6" height="2.6" fill="none" stroke="#0f5799" stroke-width="0.65"/>
<rect x="301.73" y="216.52" width="2.6" height="2.6" fill="none" stroke="#0f5799" stroke-width="0.65"/>
<rect x="298.69" y="217.10" width="2.6" height="2.6" fill="none" stroke="#0f5799" stroke-width="0.65"/>
<rect x="301.73" y="217.67" width="2.6" height="2.6" fill="none" stroke="#0f5799" stroke-width="0.65"/>
<rect x="298.69" y="218.19" width="2.6" height="2.6" fill="none" stroke="#0f5799" stroke-width="0.65"/>
<rect x="301.73" y="218.87" width="2.6" height="2.6" fill="none" stroke="#0f5799" stroke-width="0.65"/>
<rect x="297.67" y="219.62" width="2.6" height="2.6" fill="none" stroke="#0f5799" stroke-width="0.65"/>
<rect x="300.71" y="220.40" width="2.6" height="2.6" fill="none" stroke="#0f5799" stroke-width="0.65"/>
<rect x="297.67" y="220.82" width="2.6" height="2.6" fill="none" stroke="#0f5799" stroke-width="0.65"/>
<rect x="301.73" y="221.58" width="2.6" height="2.6" fill="none" stroke="#0f5799" stroke-width="0.65"/>
<rect x="298.69" y="222.33" width="2.6" height="2.6" fill="none" stroke="#0f5799" stroke-width="0.65"/>
<rect x="301.73" y="223.23" width="2.6" height="2.6" fill="none" stroke="#0f5799" stroke-width="0.65"/>
<rect x="297.67" y="224.70" width="2.6" height="2.6" fill="none" stroke="#0f5799" stroke-width="0.65"/>
<rect x="300.71" y="225.80" width="2.6" height="2.6" fill="none" stroke="#0f5799" stroke-width="0.65"/>
<rect x="297.67" y="227.17" width="2.6" height="2.6" fill="none" stroke="#0f5799" stroke-width="0.65"/>
<circle cx="312.60" cy="221.00" r="1.42" fill="#fff" fill-opacity="0.0" stroke="#cf1136" stroke-width="0.7"/>
<circle cx="312.60" cy="223.40" r="1.42" fill="#fff" fill-opacity="0.0" stroke="#cf1136" stroke-width="0.7"/>
<circle cx="312.60" cy="228.73" r="1.42" fill="#fff" fill-opacity="0.0" stroke="#cf1136" stroke-width="0.7"/>
<circle cx="313.58" cy="229.40" r="1.42" fill="#fff" fill-opacity="0.0" stroke="#cf1136" stroke-width="0.7"/>
<circle cx="311.62" cy="229.64" r="1.42" fill="#fff" fill-opacity="0.0" stroke="#cf1136" stroke-width="0.7"/>
<circle cx="312.60" cy="229.96" r="1.42" fill="#fff" fill-opacity="0.0" stroke="#cf1136" stroke-width="0.7"/>
<circle cx="313.58" cy="230.16" r="1.42" fill="#fff" fill-opacity="0.0" stroke="#cf1136" stroke-width="0.7"/>
<circle cx="312.60" cy="232.70" r="1.42" fill="#fff" fill-opacity="0.0" stroke="#cf1136" stroke-width="0.7"/>
<circle cx="312.60" cy="235.80" r="1.42" fill="#fff" fill-opacity="0.0" stroke="#cf1136" stroke-width="0.7"/>
<rect x="318.70" y="206.70" width="2.6" height="2.6" fill="none" stroke="#0f5799" stroke-width="0.65"/>
<rect x="320.73" y="208.50" width="2.6" height="2.6" fill="none" stroke="#0f5799" stroke-width="0.65"/>
<rect x="318.70" y="211.82" width="2.6" height="2.6" fill="none" stroke="#0f5799" stroke-width="0.65"/>
<rect x="320.73" y="213.63" width="2.6" height="2.6" fill="none" stroke="#0f5799" stroke-width="0.65"/>
<rect x="316.67" y="214.35" width="2.6" height="2.6" fill="none" stroke="#0f5799" stroke-width="0.65"/>
<rect x="318.70" y="215.39" width="2.6" height="2.6" fill="none" stroke="#0f5799" stroke-width="0.65"/>
<rect x="320.73" y="215.67" width="2.6" height="2.6" fill="none" stroke="#0f5799" stroke-width="0.65"/>
<rect x="316.67" y="216.73" width="2.6" height="2.6" fill="none" stroke="#0f5799" stroke-width="0.65"/>
<rect x="320.73" y="216.89" width="2.6" height="2.6" fill="none" stroke="#0f5799" stroke-width="0.65"/>
<rect x="316.67" y="217.61" width="2.6" height="2.6" fill="none" stroke="#0f5799" stroke-width="0.65"/>
<rect x="319.71" y="217.96" width="2.6" height="2.6" fill="none" stroke="#0f5799" stroke-width="0.65"/>
<rect x="318.70" y="218.77" width="2.6" height="2.6" fill="none" stroke="#0f5799" stroke-width="0.65"/>
<rect x="316.67" y="219.24" width="2.6" height="2.6" fill="none" stroke="#0f5799" stroke-width="0.65"/>
<rect x="320.73" y="219.93" width="2.6" height="2.6" fill="none" stroke="#0f5799" stroke-width="0.65"/>
<rect x="316.67" y="220.45" width="2.6" height="2.6" fill="none" stroke="#0f5799" stroke-width="0.65"/>
<rect x="319.71" y="221.20" width="2.6" height="2.6" fill="none" stroke="#0f5799" stroke-width="0.65"/>
<rect x="316.67" y="221.70" width="2.6" height="2.6" fill="none" stroke="#0f5799" stroke-width="0.65"/>
<rect x="320.73" y="222.89" width="2.6" height="2.6" fill="none" stroke="#0f5799" stroke-width="0.65"/>
<rect x="317.69" y="223.79" width="2.6" height="2.6" fill="none" stroke="#0f5799" stroke-width="0.65"/>
<rect x="320.73" y="224.81" width="2.6" height="2.6" fill="none" stroke="#0f5799" stroke-width="0.65"/>
<rect x="318.70" y="230.80" width="2.6" height="2.6" fill="none" stroke="#0f5799" stroke-width="0.65"/>
<circle cx="330.10" cy="224.70" r="1.42" fill="#fff" fill-opacity="0.0" stroke="#cf1136" stroke-width="0.7"/>
<circle cx="333.10" cy="224.70" r="1.42" fill="#fff" fill-opacity="0.0" stroke="#cf1136" stroke-width="0.7"/>
<circle cx="331.60" cy="233.33" r="1.42" fill="#fff" fill-opacity="0.0" stroke="#cf1136" stroke-width="0.7"/>
<circle cx="332.58" cy="233.94" r="1.42" fill="#fff" fill-opacity="0.0" stroke="#cf1136" stroke-width="0.7"/>
<circle cx="331.60" cy="234.73" r="1.42" fill="#fff" fill-opacity="0.0" stroke="#cf1136" stroke-width="0.7"/>
<circle cx="332.58" cy="235.42" r="1.42" fill="#fff" fill-opacity="0.0" stroke="#cf1136" stroke-width="0.7"/>
<circle cx="331.60" cy="236.53" r="1.42" fill="#fff" fill-opacity="0.0" stroke="#cf1136" stroke-width="0.7"/>
<circle cx="332.58" cy="237.46" r="1.42" fill="#fff" fill-opacity="0.0" stroke="#cf1136" stroke-width="0.7"/>
<circle cx="331.60" cy="244.60" r="1.42" fill="#fff" fill-opacity="0.0" stroke="#cf1136" stroke-width="0.7"/>
<circle cx="331.60" cy="248.30" r="1.42" fill="#fff" fill-opacity="0.0" stroke="#cf1136" stroke-width="0.7"/>
<rect x="337.70" y="212.90" width="2.6" height="2.6" fill="none" stroke="#0f5799" stroke-width="0.65"/>
<rect x="337.70" y="217.15" width="2.6" height="2.6" fill="none" stroke="#0f5799" stroke-width="0.65"/>
<rect x="339.73" y="218.62" width="2.6" height="2.6" fill="none" stroke="#0f5799" stroke-width="0.65"/>
<rect x="335.67" y="219.10" width="2.6" height="2.6" fill="none" stroke="#0f5799" stroke-width="0.65"/>
<rect x="337.70" y="220.02" width="2.6" height="2.6" fill="none" stroke="#0f5799" stroke-width="0.65"/>
<rect x="339.73" y="221.15" width="2.6" height="2.6" fill="none" stroke="#0f5799" stroke-width="0.65"/>
<rect x="335.67" y="221.69" width="2.6" height="2.6" fill="none" stroke="#0f5799" stroke-width="0.65"/>
<rect x="338.71" y="222.58" width="2.6" height="2.6" fill="none" stroke="#0f5799" stroke-width="0.65"/>
<rect x="335.67" y="223.33" width="2.6" height="2.6" fill="none" stroke="#0f5799" stroke-width="0.65"/>
<rect x="338.71" y="223.66" width="2.6" height="2.6" fill="none" stroke="#0f5799" stroke-width="0.65"/>
<rect x="335.67" y="224.29" width="2.6" height="2.6" fill="none" stroke="#0f5799" stroke-width="0.65"/>
<rect x="339.73" y="225.11" width="2.6" height="2.6" fill="none" stroke="#0f5799" stroke-width="0.65"/>
<rect x="336.69" y="225.52" width="2.6" height="2.6" fill="none" stroke="#0f5799" stroke-width="0.65"/>
<rect x="339.73" y="226.13" width="2.6" height="2.6" fill="none" stroke="#0f5799" stroke-width="0.65"/>
<rect x="335.67" y="227.21" width="2.6" height="2.6" fill="none" stroke="#0f5799" stroke-width="0.65"/>
<rect x="338.71" y="228.02" width="2.6" height="2.6" fill="none" stroke="#0f5799" stroke-width="0.65"/>
<rect x="335.67" y="229.10" width="2.6" height="2.6" fill="none" stroke="#0f5799" stroke-width="0.65"/>
<rect x="339.73" y="230.15" width="2.6" height="2.6" fill="none" stroke="#0f5799" stroke-width="0.65"/>
<rect x="336.69" y="231.50" width="2.6" height="2.6" fill="none" stroke="#0f5799" stroke-width="0.65"/>
<rect x="336.10" y="238.30" width="2.6" height="2.6" fill="none" stroke="#0f5799" stroke-width="0.65"/>
<rect x="339.30" y="238.30" width="2.6" height="2.6" fill="none" stroke="#0f5799" stroke-width="0.65"/>
<circle cx="351.20" cy="221.60" r="1.42" fill="#fff" fill-opacity="0.0" stroke="#cf1136" stroke-width="0.7"/>
<circle cx="351.20" cy="226.60" r="1.42" fill="#fff" fill-opacity="0.0" stroke="#cf1136" stroke-width="0.7"/>
<circle cx="351.20" cy="231.15" r="1.42" fill="#fff" fill-opacity="0.0" stroke="#cf1136" stroke-width="0.7"/>
<circle cx="352.18" cy="232.08" r="1.42" fill="#fff" fill-opacity="0.0" stroke="#cf1136" stroke-width="0.7"/>
<circle cx="350.22" cy="232.59" r="1.42" fill="#fff" fill-opacity="0.0" stroke="#cf1136" stroke-width="0.7"/>
<circle cx="351.20" cy="232.95" r="1.42" fill="#fff" fill-opacity="0.0" stroke="#cf1136" stroke-width="0.7"/>
<circle cx="352.18" cy="233.59" r="1.42" fill="#fff" fill-opacity="0.0" stroke="#cf1136" stroke-width="0.7"/>
<circle cx="351.20" cy="234.55" r="1.42" fill="#fff" fill-opacity="0.0" stroke="#cf1136" stroke-width="0.7"/>
<circle cx="351.20" cy="239.00" r="1.42" fill="#fff" fill-opacity="0.0" stroke="#cf1136" stroke-width="0.7"/>
<rect x="357.30" y="203.60" width="2.6" height="2.6" fill="none" stroke="#0f5799" stroke-width="0.65"/>
<rect x="357.30" y="208.00" width="2.6" height="2.6" fill="none" stroke="#0f5799" stroke-width="0.65"/>
<rect x="357.30" y="215.97" width="2.6" height="2.6" fill="none" stroke="#0f5799" stroke-width="0.65"/>
<rect x="359.33" y="216.56" width="2.6" height="2.6" fill="none" stroke="#0f5799" stroke-width="0.65"/>
<rect x="355.27" y="217.09" width="2.6" height="2.6" fill="none" stroke="#0f5799" stroke-width="0.65"/>
<rect x="359.33" y="217.61" width="2.6" height="2.6" fill="none" stroke="#0f5799" stroke-width="0.65"/>
<rect x="355.27" y="217.79" width="2.6" height="2.6" fill="none" stroke="#0f5799" stroke-width="0.65"/>
<rect x="357.30" y="218.53" width="2.6" height="2.6" fill="none" stroke="#0f5799" stroke-width="0.65"/>
<rect x="359.33" y="219.11" width="2.6" height="2.6" fill="none" stroke="#0f5799" stroke-width="0.65"/>
<rect x="357.30" y="222.97" width="2.6" height="2.6" fill="none" stroke="#0f5799" stroke-width="0.65"/>
<rect x="359.33" y="224.55" width="2.6" height="2.6" fill="none" stroke="#0f5799" stroke-width="0.65"/>
<rect x="355.27" y="225.04" width="2.6" height="2.6" fill="none" stroke="#0f5799" stroke-width="0.65"/>
<rect x="357.30" y="226.24" width="2.6" height="2.6" fill="none" stroke="#0f5799" stroke-width="0.65"/>
<rect x="359.33" y="226.44" width="2.6" height="2.6" fill="none" stroke="#0f5799" stroke-width="0.65"/>
<rect x="355.27" y="227.28" width="2.6" height="2.6" fill="none" stroke="#0f5799" stroke-width="0.65"/>
<rect x="359.33" y="227.82" width="2.6" height="2.6" fill="none" stroke="#0f5799" stroke-width="0.65"/>
<rect x="355.27" y="228.23" width="2.6" height="2.6" fill="none" stroke="#0f5799" stroke-width="0.65"/>
<rect x="358.31" y="228.97" width="2.6" height="2.6" fill="none" stroke="#0f5799" stroke-width="0.65"/>
<rect x="355.27" y="229.59" width="2.6" height="2.6" fill="none" stroke="#0f5799" stroke-width="0.65"/>
<rect x="358.31" y="230.35" width="2.6" height="2.6" fill="none" stroke="#0f5799" stroke-width="0.65"/>
<rect x="355.27" y="231.53" width="2.6" height="2.6" fill="none" stroke="#0f5799" stroke-width="0.65"/>
<rect x="359.33" y="232.07" width="2.6" height="2.6" fill="none" stroke="#0f5799" stroke-width="0.65"/>
<circle cx="369.80" cy="228.50" r="1.42" fill="#fff" fill-opacity="0.0" stroke="#cf1136" stroke-width="0.7"/>
<circle cx="369.80" cy="229.70" r="1.42" fill="#fff" fill-opacity="0.0" stroke="#cf1136" stroke-width="0.7"/>
<circle cx="369.80" cy="233.06" r="1.42" fill="#fff" fill-opacity="0.0" stroke="#cf1136" stroke-width="0.7"/>
<circle cx="369.80" cy="235.27" r="1.42" fill="#fff" fill-opacity="0.0" stroke="#cf1136" stroke-width="0.7"/>
<circle cx="370.78" cy="235.84" r="1.42" fill="#fff" fill-opacity="0.0" stroke="#cf1136" stroke-width="0.7"/>
<circle cx="369.80" cy="237.33" r="1.42" fill="#fff" fill-opacity="0.0" stroke="#cf1136" stroke-width="0.7"/>
<circle cx="370.78" cy="237.72" r="1.42" fill="#fff" fill-opacity="0.0" stroke="#cf1136" stroke-width="0.7"/>
<circle cx="369.80" cy="239.01" r="1.42" fill="#fff" fill-opacity="0.0" stroke="#cf1136" stroke-width="0.7"/>
<circle cx="370.78" cy="239.69" r="1.42" fill="#fff" fill-opacity="0.0" stroke="#cf1136" stroke-width="0.7"/>
<circle cx="369.80" cy="241.61" r="1.42" fill="#fff" fill-opacity="0.0" stroke="#cf1136" stroke-width="0.7"/>
<rect x="375.90" y="212.30" width="2.6" height="2.6" fill="none" stroke="#0f5799" stroke-width="0.65"/>
<rect x="375.90" y="217.11" width="2.6" height="2.6" fill="none" stroke="#0f5799" stroke-width="0.65"/>
<rect x="377.93" y="218.63" width="2.6" height="2.6" fill="none" stroke="#0f5799" stroke-width="0.65"/>
<rect x="375.90" y="220.63" width="2.6" height="2.6" fill="none" stroke="#0f5799" stroke-width="0.65"/>
<rect x="377.93" y="221.49" width="2.6" height="2.6" fill="none" stroke="#0f5799" stroke-width="0.65"/>
<rect x="373.87" y="222.54" width="2.6" height="2.6" fill="none" stroke="#0f5799" stroke-width="0.65"/>
<rect x="376.91" y="223.25" width="2.6" height="2.6" fill="none" stroke="#0f5799" stroke-width="0.65"/>
<rect x="373.87" y="224.00" width="2.6" height="2.6" fill="none" stroke="#0f5799" stroke-width="0.65"/>
<rect x="377.93" y="224.67" width="2.6" height="2.6" fill="none" stroke="#0f5799" stroke-width="0.65"/>
<rect x="374.88" y="225.20" width="2.6" height="2.6" fill="none" stroke="#0f5799" stroke-width="0.65"/>
<rect x="377.93" y="226.10" width="2.6" height="2.6" fill="none" stroke="#0f5799" stroke-width="0.65"/>
<rect x="374.88" y="226.30" width="2.6" height="2.6" fill="none" stroke="#0f5799" stroke-width="0.65"/>
<rect x="377.93" y="227.29" width="2.6" height="2.6" fill="none" stroke="#0f5799" stroke-width="0.65"/>
<rect x="373.87" y="227.94" width="2.6" height="2.6" fill="none" stroke="#0f5799" stroke-width="0.65"/>
<rect x="376.91" y="228.43" width="2.6" height="2.6" fill="none" stroke="#0f5799" stroke-width="0.65"/>
<rect x="373.87" y="229.34" width="2.6" height="2.6" fill="none" stroke="#0f5799" stroke-width="0.65"/>
<rect x="377.93" y="230.11" width="2.6" height="2.6" fill="none" stroke="#0f5799" stroke-width="0.65"/>
<rect x="375.90" y="230.98" width="2.6" height="2.6" fill="none" stroke="#0f5799" stroke-width="0.65"/>
<rect x="373.87" y="231.76" width="2.6" height="2.6" fill="none" stroke="#0f5799" stroke-width="0.65"/>
<rect x="377.93" y="233.04" width="2.6" height="2.6" fill="none" stroke="#0f5799" stroke-width="0.65"/>
<rect x="374.88" y="234.84" width="2.6" height="2.6" fill="none" stroke="#0f5799" stroke-width="0.65"/>
<circle cx="389.00" cy="221.50" r="1.42" fill="#fff" fill-opacity="0.0" stroke="#cf1136" stroke-width="0.7"/>
<circle cx="389.00" cy="228.10" r="1.42" fill="#fff" fill-opacity="0.0" stroke="#cf1136" stroke-width="0.7"/>
<circle cx="389.00" cy="233.63" r="1.42" fill="#fff" fill-opacity="0.0" stroke="#cf1136" stroke-width="0.7"/>
<circle cx="389.00" cy="235.41" r="1.42" fill="#fff" fill-opacity="0.0" stroke="#cf1136" stroke-width="0.7"/>
<circle cx="389.98" cy="235.80" r="1.42" fill="#fff" fill-opacity="0.0" stroke="#cf1136" stroke-width="0.7"/>
<circle cx="388.02" cy="236.50" r="1.42" fill="#fff" fill-opacity="0.0" stroke="#cf1136" stroke-width="0.7"/>
<circle cx="389.00" cy="237.10" r="1.42" fill="#fff" fill-opacity="0.0" stroke="#cf1136" stroke-width="0.7"/>
<circle cx="389.98" cy="237.99" r="1.42" fill="#fff" fill-opacity="0.0" stroke="#cf1136" stroke-width="0.7"/>
<circle cx="389.00" cy="238.60" r="1.42" fill="#fff" fill-opacity="0.0" stroke="#cf1136" stroke-width="0.7"/>
<circle cx="389.00" cy="239.86" r="1.42" fill="#fff" fill-opacity="0.0" stroke="#cf1136" stroke-width="0.7"/>
<circle cx="389.00" cy="247.10" r="1.42" fill="#fff" fill-opacity="0.0" stroke="#cf1136" stroke-width="0.7"/>
<rect x="395.10" y="215.91" width="2.6" height="2.6" fill="none" stroke="#0f5799" stroke-width="0.65"/>
<rect x="397.13" y="218.42" width="2.6" height="2.6" fill="none" stroke="#0f5799" stroke-width="0.65"/>
<rect x="394.08" y="219.77" width="2.6" height="2.6" fill="none" stroke="#0f5799" stroke-width="0.65"/>
<rect x="397.13" y="221.18" width="2.6" height="2.6" fill="none" stroke="#0f5799" stroke-width="0.65"/>
<rect x="393.07" y="222.30" width="2.6" height="2.6" fill="none" stroke="#0f5799" stroke-width="0.65"/>
<rect x="396.11" y="223.68" width="2.6" height="2.6" fill="none" stroke="#0f5799" stroke-width="0.65"/>
<rect x="393.07" y="224.28" width="2.6" height="2.6" fill="none" stroke="#0f5799" stroke-width="0.65"/>
<rect x="397.13" y="224.83" width="2.6" height="2.6" fill="none" stroke="#0f5799" stroke-width="0.65"/>
<rect x="394.08" y="225.79" width="2.6" height="2.6" fill="none" stroke="#0f5799" stroke-width="0.65"/>
<rect x="397.13" y="226.31" width="2.6" height="2.6" fill="none" stroke="#0f5799" stroke-width="0.65"/>
<rect x="393.07" y="227.22" width="2.6" height="2.6" fill="none" stroke="#0f5799" stroke-width="0.65"/>
<rect x="396.11" y="227.85" width="2.6" height="2.6" fill="none" stroke="#0f5799" stroke-width="0.65"/>
<rect x="393.07" y="228.85" width="2.6" height="2.6" fill="none" stroke="#0f5799" stroke-width="0.65"/>
<rect x="397.13" y="229.26" width="2.6" height="2.6" fill="none" stroke="#0f5799" stroke-width="0.65"/>
<rect x="395.10" y="230.53" width="2.6" height="2.6" fill="none" stroke="#0f5799" stroke-width="0.65"/>
<rect x="393.07" y="231.01" width="2.6" height="2.6" fill="none" stroke="#0f5799" stroke-width="0.65"/>
<rect x="397.13" y="232.71" width="2.6" height="2.6" fill="none" stroke="#0f5799" stroke-width="0.65"/>
<rect x="394.08" y="233.62" width="2.6" height="2.6" fill="none" stroke="#0f5799" stroke-width="0.65"/>
<rect x="397.13" y="234.38" width="2.6" height="2.6" fill="none" stroke="#0f5799" stroke-width="0.65"/>
<rect x="395.10" y="237.99" width="2.6" height="2.6" fill="none" stroke="#0f5799" stroke-width="0.65"/>
<circle cx="407.70" cy="246.30" r="1.42" fill="#fff" fill-opacity="0.0" stroke="#cf1136" stroke-width="0.7"/>
<circle cx="407.70" cy="256.76" r="1.42" fill="#fff" fill-opacity="0.0" stroke="#cf1136" stroke-width="0.7"/>
<circle cx="407.70" cy="258.22" r="1.42" fill="#fff" fill-opacity="0.0" stroke="#cf1136" stroke-width="0.7"/>
<circle cx="408.68" cy="258.97" r="1.42" fill="#fff" fill-opacity="0.0" stroke="#cf1136" stroke-width="0.7"/>
<circle cx="407.70" cy="260.12" r="1.42" fill="#fff" fill-opacity="0.0" stroke="#cf1136" stroke-width="0.7"/>
<circle cx="408.68" cy="260.46" r="1.42" fill="#fff" fill-opacity="0.0" stroke="#cf1136" stroke-width="0.7"/>
<circle cx="407.70" cy="262.37" r="1.42" fill="#fff" fill-opacity="0.0" stroke="#cf1136" stroke-width="0.7"/>
<circle cx="407.70" cy="267.80" r="1.42" fill="#fff" fill-opacity="0.0" stroke="#cf1136" stroke-width="0.7"/>
<circle cx="407.70" cy="271.10" r="1.42" fill="#fff" fill-opacity="0.0" stroke="#cf1136" stroke-width="0.7"/>
<circle cx="406.20" cy="277.70" r="1.42" fill="#fff" fill-opacity="0.0" stroke="#cf1136" stroke-width="0.7"/>
<circle cx="409.20" cy="277.70" r="1.42" fill="#fff" fill-opacity="0.0" stroke="#cf1136" stroke-width="0.7"/>
<rect x="413.80" y="219.40" width="2.6" height="2.6" fill="none" stroke="#0f5799" stroke-width="0.65"/>
<rect x="413.80" y="229.20" width="2.6" height="2.6" fill="none" stroke="#0f5799" stroke-width="0.65"/>
<rect x="413.80" y="232.37" width="2.6" height="2.6" fill="none" stroke="#0f5799" stroke-width="0.65"/>
<rect x="415.83" y="233.59" width="2.6" height="2.6" fill="none" stroke="#0f5799" stroke-width="0.65"/>
<rect x="411.77" y="234.83" width="2.6" height="2.6" fill="none" stroke="#0f5799" stroke-width="0.65"/>
<rect x="413.80" y="236.91" width="2.6" height="2.6" fill="none" stroke="#0f5799" stroke-width="0.65"/>
<rect x="415.83" y="237.77" width="2.6" height="2.6" fill="none" stroke="#0f5799" stroke-width="0.65"/>
<rect x="411.77" y="238.40" width="2.6" height="2.6" fill="none" stroke="#0f5799" stroke-width="0.65"/>
<rect x="413.80" y="239.94" width="2.6" height="2.6" fill="none" stroke="#0f5799" stroke-width="0.65"/>
<rect x="415.83" y="240.75" width="2.6" height="2.6" fill="none" stroke="#0f5799" stroke-width="0.65"/>
<rect x="411.77" y="241.10" width="2.6" height="2.6" fill="none" stroke="#0f5799" stroke-width="0.65"/>
<rect x="415.83" y="241.84" width="2.6" height="2.6" fill="none" stroke="#0f5799" stroke-width="0.65"/>
<rect x="413.80" y="243.18" width="2.6" height="2.6" fill="none" stroke="#0f5799" stroke-width="0.65"/>
<rect x="411.77" y="243.78" width="2.6" height="2.6" fill="none" stroke="#0f5799" stroke-width="0.65"/>
<rect x="415.83" y="245.31" width="2.6" height="2.6" fill="none" stroke="#0f5799" stroke-width="0.65"/>
<rect x="412.78" y="246.20" width="2.6" height="2.6" fill="none" stroke="#0f5799" stroke-width="0.65"/>
<rect x="415.83" y="247.67" width="2.6" height="2.6" fill="none" stroke="#0f5799" stroke-width="0.65"/>
<rect x="411.77" y="248.91" width="2.6" height="2.6" fill="none" stroke="#0f5799" stroke-width="0.65"/>
<rect x="413.80" y="250.81" width="2.6" height="2.6" fill="none" stroke="#0f5799" stroke-width="0.65"/>
<rect x="415.83" y="252.98" width="2.6" height="2.6" fill="none" stroke="#0f5799" stroke-width="0.65"/>
<rect x="413.80" y="255.55" width="2.6" height="2.6" fill="none" stroke="#0f5799" stroke-width="0.65"/>
<circle cx="426.50" cy="238.90" r="1.42" fill="#fff" fill-opacity="0.0" stroke="#cf1136" stroke-width="0.7"/>
<circle cx="426.50" cy="243.00" r="1.42" fill="#fff" fill-opacity="0.0" stroke="#cf1136" stroke-width="0.7"/>
<circle cx="426.50" cy="246.86" r="1.42" fill="#fff" fill-opacity="0.0" stroke="#cf1136" stroke-width="0.7"/>
<circle cx="426.50" cy="248.03" r="1.42" fill="#fff" fill-opacity="0.0" stroke="#cf1136" stroke-width="0.7"/>
<circle cx="427.48" cy="248.95" r="1.42" fill="#fff" fill-opacity="0.0" stroke="#cf1136" stroke-width="0.7"/>
<circle cx="426.50" cy="249.80" r="1.42" fill="#fff" fill-opacity="0.0" stroke="#cf1136" stroke-width="0.7"/>
<circle cx="426.50" cy="251.45" r="1.42" fill="#fff" fill-opacity="0.0" stroke="#cf1136" stroke-width="0.7"/>
<circle cx="427.48" cy="252.15" r="1.42" fill="#fff" fill-opacity="0.0" stroke="#cf1136" stroke-width="0.7"/>
<circle cx="426.50" cy="258.70" r="1.42" fill="#fff" fill-opacity="0.0" stroke="#cf1136" stroke-width="0.7"/>
<circle cx="426.50" cy="261.00" r="1.42" fill="#fff" fill-opacity="0.0" stroke="#cf1136" stroke-width="0.7"/>
<circle cx="426.50" cy="263.70" r="1.42" fill="#fff" fill-opacity="0.0" stroke="#cf1136" stroke-width="0.7"/>
<rect x="432.60" y="216.10" width="2.6" height="2.6" fill="none" stroke="#0f5799" stroke-width="0.65"/>
<rect x="432.60" y="224.06" width="2.6" height="2.6" fill="none" stroke="#0f5799" stroke-width="0.65"/>
<rect x="434.63" y="226.28" width="2.6" height="2.6" fill="none" stroke="#0f5799" stroke-width="0.65"/>
<rect x="432.60" y="228.28" width="2.6" height="2.6" fill="none" stroke="#0f5799" stroke-width="0.65"/>
<rect x="434.63" y="229.47" width="2.6" height="2.6" fill="none" stroke="#0f5799" stroke-width="0.65"/>
<rect x="431.58" y="230.85" width="2.6" height="2.6" fill="none" stroke="#0f5799" stroke-width="0.65"/>
<rect x="434.63" y="231.50" width="2.6" height="2.6" fill="none" stroke="#0f5799" stroke-width="0.65"/>
<rect x="430.57" y="232.36" width="2.6" height="2.6" fill="none" stroke="#0f5799" stroke-width="0.65"/>
<rect x="432.60" y="233.40" width="2.6" height="2.6" fill="none" stroke="#0f5799" stroke-width="0.65"/>
<rect x="434.63" y="234.24" width="2.6" height="2.6" fill="none" stroke="#0f5799" stroke-width="0.65"/>
<rect x="430.57" y="235.10" width="2.6" height="2.6" fill="none" stroke="#0f5799" stroke-width="0.65"/>
<rect x="434.63" y="235.50" width="2.6" height="2.6" fill="none" stroke="#0f5799" stroke-width="0.65"/>
<rect x="432.60" y="236.70" width="2.6" height="2.6" fill="none" stroke="#0f5799" stroke-width="0.65"/>
<rect x="430.57" y="237.66" width="2.6" height="2.6" fill="none" stroke="#0f5799" stroke-width="0.65"/>
<rect x="434.63" y="238.62" width="2.6" height="2.6" fill="none" stroke="#0f5799" stroke-width="0.65"/>
<rect x="430.57" y="238.94" width="2.6" height="2.6" fill="none" stroke="#0f5799" stroke-width="0.65"/>
<rect x="432.60" y="240.24" width="2.6" height="2.6" fill="none" stroke="#0f5799" stroke-width="0.65"/>
<rect x="434.63" y="241.88" width="2.6" height="2.6" fill="none" stroke="#0f5799" stroke-width="0.65"/>
<rect x="431.58" y="243.44" width="2.6" height="2.6" fill="none" stroke="#0f5799" stroke-width="0.65"/>
<rect x="434.63" y="244.07" width="2.6" height="2.6" fill="none" stroke="#0f5799" stroke-width="0.65"/>
<rect x="432.60" y="247.04" width="2.6" height="2.6" fill="none" stroke="#0f5799" stroke-width="0.65"/>
<text x="0" y="0" font-size="8.56" text-anchor="middle" font-weight="normal" fill="#222" transform="translate(354.20,170.40) scale(0.9346,1)" >CD8 immune checkpoints</text>
<text x="228.20" y="170.60" font-size="10.8" font-weight="bold" fill="#000" stroke="#000" stroke-width="0.35">F</text>
<text x="0" y="0" font-size="6.6" text-anchor="middle" fill="#222" stroke="#222" stroke-width="0.12" transform="translate(241.40,236.10) rotate(-90)" textLength="46.3" lengthAdjust="spacingAndGlyphs">% of CD8+ T cells</text>
<circle cx="451.30" cy="197.40" r="1.95" fill="#fff" fill-opacity="0.0" stroke="#cf1136" stroke-width="1.0"/>
<text x="0" y="0" font-size="6.50" text-anchor="start" fill="#2a2a2a" stroke="#2a2a2a" stroke-width="0.05" transform="translate(456.60,199.70) scale(0.8929,1)" >Healthy</text>
<rect x="449.30" y="205.00" width="4.0" height="4.0" fill="none" stroke="#0f5799" stroke-width="0.9"/>
<text x="0" y="0" font-size="6.50" text-anchor="start" fill="#2a2a2a" stroke="#2a2a2a" stroke-width="0.05" transform="translate(456.60,209.20) scale(0.8929,1)" >Baseline</text>
<line x1="43.50" y1="353.80" x2="43.50" y2="464.00" stroke="#1a1a1a" stroke-width="1.1"/>
<line x1="43.50" y1="464.00" x2="116.70" y2="464.00" stroke="#1a1a1a" stroke-width="1.1"/>
<line x1="40.70" y1="464.00" x2="43.50" y2="464.00" stroke="#1a1a1a" stroke-width="0.9"/>
<text x="0" y="0" font-size="6.94" text-anchor="end" fill="#2a2a2a" stroke="#2a2a2a" stroke-width="0.05" transform="translate(37.30,466.00) scale(0.8929,1)" >0</text>
<line x1="40.70" y1="428.10" x2="43.50" y2="428.10" stroke="#1a1a1a" stroke-width="0.9"/>
<text x="0" y="0" font-size="6.94" text-anchor="end" fill="#2a2a2a" stroke="#2a2a2a" stroke-width="0.05" transform="translate(37.30,430.10) scale(0.8929,1)" >10</text>
<line x1="40.70" y1="392.20" x2="43.50" y2="392.20" stroke="#1a1a1a" stroke-width="0.9"/>
<text x="0" y="0" font-size="6.94" text-anchor="end" fill="#2a2a2a" stroke="#2a2a2a" stroke-width="0.05" transform="translate(37.30,394.20) scale(0.8929,1)" >20</text>
<line x1="40.70" y1="356.30" x2="43.50" y2="356.30" stroke="#1a1a1a" stroke-width="0.9"/>
<text x="0" y="0" font-size="6.94" text-anchor="end" fill="#2a2a2a" stroke="#2a2a2a" stroke-width="0.05" transform="translate(37.30,358.30) scale(0.8929,1)" >30</text>
<rect x="50.00" y="441.30" width="23.90" height="22.70" fill="#cf1136"/>
<rect x="86.40" y="426.30" width="23.70" height="37.70" fill="#0f5799"/>
<line x1="61.95" y1="464.00" x2="61.95" y2="466.20" stroke="#1a1a1a" stroke-width="0.9"/>
<line x1="98.25" y1="464.00" x2="98.25" y2="466.20" stroke="#1a1a1a" stroke-width="0.9"/>
<text x="0" y="0" font-size="6.72" text-anchor="middle" fill="#2a2a2a" stroke="#2a2a2a" stroke-width="0.05" transform="translate(61.95,475.80) scale(0.8929,1)" >Healthy</text>
<text x="0" y="0" font-size="6.72" text-anchor="middle" fill="#2a2a2a" stroke="#2a2a2a" stroke-width="0.05" transform="translate(98.25,475.80) scale(0.8929,1)" >Baseline</text>
<circle cx="62.10" cy="418.70" r="1.7" fill="#000"/>
<circle cx="53.40" cy="434.70" r="1.7" fill="#000"/>
<circle cx="59.10" cy="436.10" r="1.7" fill="#000"/>
<circle cx="64.70" cy="435.50" r="1.7" fill="#000"/>
<circle cx="70.20" cy="432.10" r="1.7" fill="#000"/>
<circle cx="53.40" cy="446.00" r="1.7" fill="#000"/>
<circle cx="59.10" cy="446.50" r="1.7" fill="#000"/>
<circle cx="64.70" cy="446.50" r="1.7" fill="#000"/>
<circle cx="70.20" cy="446.00" r="1.7" fill="#000"/>
<circle cx="56.00" cy="450.30" r="1.7" fill="#000"/>
<circle cx="62.10" cy="452.00" r="1.7" fill="#000"/>
<circle cx="67.30" cy="450.30" r="1.7" fill="#000"/>
<circle cx="95.20" cy="372.00" r="1.7" fill="#000"/>
<circle cx="100.70" cy="374.80" r="1.7" fill="#000"/>
<circle cx="97.80" cy="382.00" r="1.7" fill="#000"/>
<circle cx="92.60" cy="398.00" r="1.7" fill="#000"/>
<circle cx="97.80" cy="399.30" r="1.7" fill="#000"/>
<circle cx="103.50" cy="397.20" r="1.7" fill="#000"/>
<circle cx="97.80" cy="412.80" r="1.7" fill="#000"/>
<circle cx="89.10" cy="418.90" r="1.7" fill="#000"/>
<circle cx="93.50" cy="420.40" r="1.7" fill="#000"/>
<circle cx="97.80" cy="419.80" r="1.7" fill="#000"/>
<circle cx="102.20" cy="420.40" r="1.7" fill="#000"/>
<circle cx="107.20" cy="417.60" r="1.7" fill="#000"/>
<circle cx="89.80" cy="424.10" r="1.7" fill="#000"/>
<circle cx="94.80" cy="425.40" r="1.7" fill="#000"/>
<circle cx="100.70" cy="424.80" r="1.7" fill="#000"/>
<circle cx="106.10" cy="424.10" r="1.7" fill="#000"/>
<circle cx="88.30" cy="430.20" r="1.7" fill="#000"/>
<circle cx="93.50" cy="431.30" r="1.7" fill="#000"/>
<circle cx="99.10" cy="430.20" r="1.7" fill="#000"/>
<circle cx="104.30" cy="430.20" r="1.7" fill="#000"/>
<circle cx="88.30" cy="436.70" r="1.7" fill="#000"/>
<circle cx="93.50" cy="438.90" r="1.7" fill="#000"/>
<circle cx="99.10" cy="437.80" r="1.7" fill="#000"/>
<circle cx="104.30" cy="435.60" r="1.7" fill="#000"/>
<circle cx="108.30" cy="436.70" r="1.7" fill="#000"/>
<circle cx="88.30" cy="442.20" r="1.7" fill="#000"/>
<circle cx="93.50" cy="444.30" r="1.7" fill="#000"/>
<circle cx="99.10" cy="442.80" r="1.7" fill="#000"/>
<circle cx="104.30" cy="442.20" r="1.7" fill="#000"/>
<circle cx="108.30" cy="443.30" r="1.7" fill="#000"/>
<circle cx="93.50" cy="447.60" r="1.7" fill="#000"/>
<circle cx="99.10" cy="448.70" r="1.7" fill="#000"/>
<circle cx="104.30" cy="447.60" r="1.7" fill="#000"/>
<circle cx="93.50" cy="452.00" r="1.7" fill="#000"/>
<circle cx="104.30" cy="452.00" r="1.7" fill="#000"/>
<circle cx="97.80" cy="455.20" r="1.7" fill="#000"/>
<line x1="62.00" y1="431.20" x2="62.00" y2="451.40" stroke="#222" stroke-width="0.9"/>
<line x1="56.30" y1="431.20" x2="67.70" y2="431.20" stroke="#222" stroke-width="0.9"/>
<line x1="56.30" y1="451.40" x2="67.70" y2="451.40" stroke="#222" stroke-width="0.9"/>
<line x1="98.00" y1="404.60" x2="98.00" y2="448.00" stroke="#222" stroke-width="0.9"/>
<line x1="92.50" y1="404.60" x2="103.50" y2="404.60" stroke="#222" stroke-width="0.9"/>
<line x1="92.50" y1="448.00" x2="103.50" y2="448.00" stroke="#222" stroke-width="0.9"/>
<line x1="62.20" y1="362.00" x2="98.30" y2="362.00" stroke="#383838" stroke-width="1.0"/>
<line x1="62.20" y1="360.30" x2="62.20" y2="363.70" stroke="#383838" stroke-width="1.0"/>
<line x1="98.30" y1="360.30" x2="98.30" y2="363.70" stroke="#383838" stroke-width="1.0"/>
<circle cx="80.25" cy="358.80" r="0.72" fill="#333"/>
<text x="0" y="0" font-size="8.56" text-anchor="middle" font-weight="normal" fill="#222" transform="translate(79.50,346.20) scale(0.9346,1)" >NK cells</text>
<text x="6.80" y="345.20" font-size="10.8" font-weight="bold" fill="#000" stroke="#000" stroke-width="0.35">G</text>
<text x="0" y="0" font-size="6.6" text-anchor="middle" fill="#222" stroke="#222" stroke-width="0.12" transform="translate(24.30,410.70) rotate(-90)" textLength="40.3" lengthAdjust="spacingAndGlyphs">% Lymphocytes</text>
<line x1="172.20" y1="352.40" x2="172.20" y2="464.10" stroke="#1a1a1a" stroke-width="1.1"/>
<line x1="172.20" y1="464.10" x2="313.00" y2="464.10" stroke="#1a1a1a" stroke-width="1.1"/>
<line x1="169.40" y1="354.40" x2="172.20" y2="354.40" stroke="#1a1a1a" stroke-width="0.9"/>
<text x="0" y="0" font-size="6.94" text-anchor="end" fill="#2a2a2a" stroke="#2a2a2a" stroke-width="0.05" transform="translate(166.20,356.50) scale(0.8929,1)" >100</text>
<line x1="169.40" y1="372.69" x2="172.20" y2="372.69" stroke="#1a1a1a" stroke-width="0.9"/>
<text x="0" y="0" font-size="6.94" text-anchor="end" fill="#2a2a2a" stroke="#2a2a2a" stroke-width="0.05" transform="translate(166.20,374.79) scale(0.8929,1)" >80</text>
<line x1="169.40" y1="390.98" x2="172.20" y2="390.98" stroke="#1a1a1a" stroke-width="0.9"/>
<text x="0" y="0" font-size="6.94" text-anchor="end" fill="#2a2a2a" stroke="#2a2a2a" stroke-width="0.05" transform="translate(166.20,393.08) scale(0.8929,1)" >60</text>
<line x1="169.40" y1="409.28" x2="172.20" y2="409.28" stroke="#1a1a1a" stroke-width="0.9"/>
<text x="0" y="0" font-size="6.94" text-anchor="end" fill="#2a2a2a" stroke="#2a2a2a" stroke-width="0.05" transform="translate(166.20,411.38) scale(0.8929,1)" >40</text>
<line x1="169.40" y1="427.57" x2="172.20" y2="427.57" stroke="#1a1a1a" stroke-width="0.9"/>
<text x="0" y="0" font-size="6.94" text-anchor="end" fill="#2a2a2a" stroke="#2a2a2a" stroke-width="0.05" transform="translate(166.20,429.67) scale(0.8929,1)" >20</text>
<line x1="169.40" y1="445.86" x2="172.20" y2="445.86" stroke="#1a1a1a" stroke-width="0.9"/>
<text x="0" y="0" font-size="6.94" text-anchor="end" fill="#2a2a2a" stroke="#2a2a2a" stroke-width="0.05" transform="translate(166.20,447.96) scale(0.8929,1)" >0</text>
<line x1="169.40" y1="464.15" x2="172.20" y2="464.15" stroke="#1a1a1a" stroke-width="0.9"/>
<text x="0" y="0" font-size="6.94" text-anchor="end" fill="#2a2a2a" stroke="#2a2a2a" stroke-width="0.05" transform="translate(166.20,466.25) scale(0.8929,1)" >-20</text>
<line x1="195.60" y1="464.10" x2="195.60" y2="466.30" stroke="#1a1a1a" stroke-width="0.9"/>
<text x="0" y="0" font-size="6.72" text-anchor="middle" fill="#2a2a2a" stroke="#2a2a2a" stroke-width="0.05" transform="translate(195.60,476.00) scale(0.8929,1)" >Immature</text>
<line x1="242.70" y1="464.10" x2="242.70" y2="466.30" stroke="#1a1a1a" stroke-width="0.9"/>
<text x="0" y="0" font-size="6.72" text-anchor="middle" fill="#2a2a2a" stroke="#2a2a2a" stroke-width="0.05" transform="translate(242.70,476.00) scale(0.8929,1)" >Regulatory</text>
<line x1="289.20" y1="464.10" x2="289.20" y2="466.30" stroke="#1a1a1a" stroke-width="0.9"/>
<text x="0" y="0" font-size="6.72" text-anchor="middle" fill="#2a2a2a" stroke="#2a2a2a" stroke-width="0.05" transform="translate(289.20,476.00) scale(0.8929,1)" >Mature</text>
<line x1="186.10" y1="358.30" x2="204.70" y2="358.30" stroke="#383838" stroke-width="1.0"/>
<line x1="186.10" y1="356.60" x2="186.10" y2="360.00" stroke="#383838" stroke-width="1.0"/>
<line x1="204.70" y1="356.60" x2="204.70" y2="360.00" stroke="#383838" stroke-width="1.0"/>
<circle cx="194.25" cy="355.30" r="0.72" fill="#333"/>
<circle cx="196.55" cy="355.30" r="0.72" fill="#333"/>
<line x1="280.20" y1="358.50" x2="298.70" y2="358.50" stroke="#383838" stroke-width="1.0"/>
<line x1="280.20" y1="356.80" x2="280.20" y2="360.20" stroke="#383838" stroke-width="1.0"/>
<line x1="298.70" y1="356.80" x2="298.70" y2="360.20" stroke="#383838" stroke-width="1.0"/>
<circle cx="288.30" cy="355.50" r="0.72" fill="#333"/>
<circle cx="290.60" cy="355.50" r="0.72" fill="#333"/>
<circle cx="183.90" cy="389.80" r="1.75" fill="#fff" fill-opacity="0.0" stroke="#cf1136" stroke-width="0.9"/>
<circle cx="189.50" cy="388.80" r="1.75" fill="#fff" fill-opacity="0.0" stroke="#cf1136" stroke-width="0.9"/>
<circle cx="186.50" cy="401.90" r="1.75" fill="#fff" fill-opacity="0.0" stroke="#cf1136" stroke-width="0.9"/>
<circle cx="189.50" cy="415.40" r="1.75" fill="#fff" fill-opacity="0.0" stroke="#cf1136" stroke-width="0.9"/>
<circle cx="182.80" cy="419.50" r="1.75" fill="#fff" fill-opacity="0.0" stroke="#cf1136" stroke-width="0.9"/>
<circle cx="185.20" cy="420.50" r="1.75" fill="#fff" fill-opacity="0.0" stroke="#cf1136" stroke-width="0.9"/>
<circle cx="187.70" cy="421.00" r="1.75" fill="#fff" fill-opacity="0.0" stroke="#cf1136" stroke-width="0.9"/>
<circle cx="183.90" cy="421.40" r="1.75" fill="#fff" fill-opacity="0.0" stroke="#cf1136" stroke-width="0.9"/>
<circle cx="186.50" cy="419.90" r="1.75" fill="#fff" fill-opacity="0.0" stroke="#cf1136" stroke-width="0.9"/>
<circle cx="189.50" cy="426.60" r="1.75" fill="#fff" fill-opacity="0.0" stroke="#cf1136" stroke-width="0.9"/>
<circle cx="182.80" cy="431.60" r="1.75" fill="#fff" fill-opacity="0.0" stroke="#cf1136" stroke-width="0.9"/>
<circle cx="186.50" cy="432.60" r="1.75" fill="#fff" fill-opacity="0.0" stroke="#cf1136" stroke-width="0.9"/>
<circle cx="189.90" cy="432.60" r="1.75" fill="#fff" fill-opacity="0.0" stroke="#cf1136" stroke-width="0.9"/>
<circle cx="280.80" cy="398.70" r="1.75" fill="#fff" fill-opacity="0.0" stroke="#cf1136" stroke-width="0.9"/>
<circle cx="277.40" cy="419.50" r="1.75" fill="#fff" fill-opacity="0.0" stroke="#cf1136" stroke-width="0.9"/>
<circle cx="284.00" cy="418.00" r="1.75" fill="#fff" fill-opacity="0.0" stroke="#cf1136" stroke-width="0.9"/>
<circle cx="280.80" cy="422.30" r="1.75" fill="#fff" fill-opacity="0.0" stroke="#cf1136" stroke-width="0.9"/>
<circle cx="277.40" cy="431.10" r="1.75" fill="#fff" fill-opacity="0.0" stroke="#cf1136" stroke-width="0.9"/>
<circle cx="283.40" cy="430.70" r="1.75" fill="#fff" fill-opacity="0.0" stroke="#cf1136" stroke-width="0.9"/>
<circle cx="277.40" cy="438.10" r="1.75" fill="#fff" fill-opacity="0.0" stroke="#cf1136" stroke-width="0.9"/>
<circle cx="280.80" cy="436.70" r="1.75" fill="#fff" fill-opacity="0.0" stroke="#cf1136" stroke-width="0.9"/>
<circle cx="284.00" cy="439.10" r="1.75" fill="#fff" fill-opacity="0.0" stroke="#cf1136" stroke-width="0.9"/>
<circle cx="280.80" cy="442.80" r="1.75" fill="#fff" fill-opacity="0.0" stroke="#cf1136" stroke-width="0.9"/>
<circle cx="279.00" cy="440.50" r="1.75" fill="#fff" fill-opacity="0.0" stroke="#cf1136" stroke-width="0.9"/>
<circle cx="282.60" cy="440.50" r="1.75" fill="#fff" fill-opacity="0.0" stroke="#cf1136" stroke-width="0.9"/>
<circle cx="233.40" cy="421.50" r="1.75" fill="#fff" fill-opacity="0.0" stroke="#cf1136" stroke-width="0.9"/>
<circle cx="233.40" cy="427.20" r="1.75" fill="#fff" fill-opacity="0.0" stroke="#cf1136" stroke-width="0.9"/>
<circle cx="233.40" cy="437.50" r="1.75" fill="#fff" fill-opacity="0.0" stroke="#cf1136" stroke-width="0.9"/>
<circle cx="229.80" cy="441.60" r="1.75" fill="#fff" fill-opacity="0.0" stroke="#cf1136" stroke-width="0.9"/>
<circle cx="231.60" cy="443.60" r="1.75" fill="#fff" fill-opacity="0.0" stroke="#cf1136" stroke-width="0.9"/>
<circle cx="233.60" cy="444.60" r="1.75" fill="#fff" fill-opacity="0.0" stroke="#cf1136" stroke-width="0.9"/>
<circle cx="235.60" cy="443.80" r="1.75" fill="#fff" fill-opacity="0.0" stroke="#cf1136" stroke-width="0.9"/>
<circle cx="237.60" cy="441.80" r="1.75" fill="#fff" fill-opacity="0.0" stroke="#cf1136" stroke-width="0.9"/>
<circle cx="232.00" cy="441.20" r="1.75" fill="#fff" fill-opacity="0.0" stroke="#cf1136" stroke-width="0.9"/>
<circle cx="235.00" cy="441.00" r="1.75" fill="#fff" fill-opacity="0.0" stroke="#cf1136" stroke-width="0.9"/>
<circle cx="233.60" cy="442.50" r="1.75" fill="#fff" fill-opacity="0.0" stroke="#cf1136" stroke-width="0.9"/>
<circle cx="230.50" cy="442.80" r="1.75" fill="#fff" fill-opacity="0.0" stroke="#cf1136" stroke-width="0.9"/>
<circle cx="236.80" cy="443.00" r="1.75" fill="#fff" fill-opacity="0.0" stroke="#cf1136" stroke-width="0.9"/>
<line x1="180.50" y1="417.20" x2="192.50" y2="417.20" stroke="#cf1136" stroke-width="0.9"/>
<line x1="228.00" y1="440.40" x2="240.00" y2="440.40" stroke="#cf1136" stroke-width="0.9"/>
<line x1="275.00" y1="429.80" x2="286.50" y2="429.80" stroke="#cf1136" stroke-width="0.9"/>
<rect x="246.24" y="416.26" width="3.3" height="3.3" fill="none" stroke="#0f5799" stroke-width="0.8"/>
<rect x="249.86" y="418.33" width="3.3" height="3.3" fill="none" stroke="#0f5799" stroke-width="0.8"/>
<rect x="253.47" y="416.26" width="3.3" height="3.3" fill="none" stroke="#0f5799" stroke-width="0.8"/>
<rect x="246.76" y="422.98" width="3.3" height="3.3" fill="none" stroke="#0f5799" stroke-width="0.8"/>
<rect x="254.51" y="425.56" width="3.3" height="3.3" fill="none" stroke="#0f5799" stroke-width="0.8"/>
<rect x="245.73" y="429.18" width="3.3" height="3.3" fill="none" stroke="#0f5799" stroke-width="0.8"/>
<rect x="249.34" y="427.63" width="3.3" height="3.3" fill="none" stroke="#0f5799" stroke-width="0.8"/>
<rect x="252.44" y="429.18" width="3.3" height="3.3" fill="none" stroke="#0f5799" stroke-width="0.8"/>
<rect x="255.02" y="427.11" width="3.3" height="3.3" fill="none" stroke="#0f5799" stroke-width="0.8"/>
<rect x="246.24" y="432.28" width="3.3" height="3.3" fill="none" stroke="#0f5799" stroke-width="0.8"/>
<rect x="249.34" y="431.76" width="3.3" height="3.3" fill="none" stroke="#0f5799" stroke-width="0.8"/>
<rect x="252.96" y="432.79" width="3.3" height="3.3" fill="none" stroke="#0f5799" stroke-width="0.8"/>
<rect x="245.21" y="435.37" width="3.3" height="3.3" fill="none" stroke="#0f5799" stroke-width="0.8"/>
<rect x="248.31" y="434.34" width="3.3" height="3.3" fill="none" stroke="#0f5799" stroke-width="0.8"/>
<rect x="251.41" y="435.89" width="3.3" height="3.3" fill="none" stroke="#0f5799" stroke-width="0.8"/>
<rect x="253.99" y="434.86" width="3.3" height="3.3" fill="none" stroke="#0f5799" stroke-width="0.8"/>
<rect x="246.24" y="438.47" width="3.3" height="3.3" fill="none" stroke="#0f5799" stroke-width="0.8"/>
<rect x="249.34" y="437.96" width="3.3" height="3.3" fill="none" stroke="#0f5799" stroke-width="0.8"/>
<rect x="252.44" y="438.99" width="3.3" height="3.3" fill="none" stroke="#0f5799" stroke-width="0.8"/>
<rect x="247.28" y="441.06" width="3.3" height="3.3" fill="none" stroke="#0f5799" stroke-width="0.8"/>
<rect x="250.37" y="441.57" width="3.3" height="3.3" fill="none" stroke="#0f5799" stroke-width="0.8"/>
<rect x="252.96" y="440.54" width="3.3" height="3.3" fill="none" stroke="#0f5799" stroke-width="0.8"/>
<rect x="248.31" y="443.64" width="3.3" height="3.3" fill="none" stroke="#0f5799" stroke-width="0.8"/>
<rect x="251.41" y="443.12" width="3.3" height="3.3" fill="none" stroke="#0f5799" stroke-width="0.8"/>
<rect x="245.21" y="426.59" width="3.3" height="3.3" fill="none" stroke="#0f5799" stroke-width="0.8"/>
<rect x="250.37" y="423.49" width="3.3" height="3.3" fill="none" stroke="#0f5799" stroke-width="0.8"/>
<rect x="247.79" y="425.56" width="3.3" height="3.3" fill="none" stroke="#0f5799" stroke-width="0.8"/>
<rect x="253.99" y="431.24" width="3.3" height="3.3" fill="none" stroke="#0f5799" stroke-width="0.8"/>
<rect x="202.35" y="368.45" width="3.3" height="3.3" fill="none" stroke="#0f5799" stroke-width="0.8"/>
<rect x="202.75" y="374.15" width="3.3" height="3.3" fill="none" stroke="#0f5799" stroke-width="0.8"/>
<rect x="205.65" y="375.25" width="3.3" height="3.3" fill="none" stroke="#0f5799" stroke-width="0.8"/>
<rect x="199.85" y="379.55" width="3.3" height="3.3" fill="none" stroke="#0f5799" stroke-width="0.8"/>
<rect x="206.35" y="381.05" width="3.3" height="3.3" fill="none" stroke="#0f5799" stroke-width="0.8"/>
<rect x="200.25" y="383.25" width="3.3" height="3.3" fill="none" stroke="#0f5799" stroke-width="0.8"/>
<rect x="204.95" y="383.25" width="3.3" height="3.3" fill="none" stroke="#0f5799" stroke-width="0.8"/>
<rect x="199.85" y="386.85" width="3.3" height="3.3" fill="none" stroke="#0f5799" stroke-width="0.8"/>
<rect x="205.25" y="386.45" width="3.3" height="3.3" fill="none" stroke="#0f5799" stroke-width="0.8"/>
<rect x="200.25" y="390.05" width="3.3" height="3.3" fill="none" stroke="#0f5799" stroke-width="0.8"/>
<rect x="204.95" y="389.35" width="3.3" height="3.3" fill="none" stroke="#0f5799" stroke-width="0.8"/>
<rect x="199.85" y="393.65" width="3.3" height="3.3" fill="none" stroke="#0f5799" stroke-width="0.8"/>
<rect x="205.25" y="392.95" width="3.3" height="3.3" fill="none" stroke="#0f5799" stroke-width="0.8"/>
<rect x="200.55" y="396.55" width="3.3" height="3.3" fill="none" stroke="#0f5799" stroke-width="0.8"/>
<rect x="204.15" y="396.25" width="3.3" height="3.3" fill="none" stroke="#0f5799" stroke-width="0.8"/>
<rect x="198.95" y="399.35" width="3.3" height="3.3" fill="none" stroke="#0f5799" stroke-width="0.8"/>
<rect x="206.35" y="400.35" width="3.3" height="3.3" fill="none" stroke="#0f5799" stroke-width="0.8"/>
<rect x="202.15" y="402.65" width="3.3" height="3.3" fill="none" stroke="#0f5799" stroke-width="0.8"/>
<rect x="200.35" y="407.75" width="3.3" height="3.3" fill="none" stroke="#0f5799" stroke-width="0.8"/>
<rect x="205.45" y="407.75" width="3.3" height="3.3" fill="none" stroke="#0f5799" stroke-width="0.8"/>
<rect x="200.35" y="413.35" width="3.3" height="3.3" fill="none" stroke="#0f5799" stroke-width="0.8"/>
<rect x="205.45" y="413.35" width="3.3" height="3.3" fill="none" stroke="#0f5799" stroke-width="0.8"/>
<rect x="200.75" y="415.65" width="3.3" height="3.3" fill="none" stroke="#0f5799" stroke-width="0.8"/>
<rect x="206.35" y="420.35" width="3.3" height="3.3" fill="none" stroke="#0f5799" stroke-width="0.8"/>
<rect x="198.95" y="424.05" width="3.3" height="3.3" fill="none" stroke="#0f5799" stroke-width="0.8"/>
<rect x="202.65" y="425.45" width="3.3" height="3.3" fill="none" stroke="#0f5799" stroke-width="0.8"/>
<rect x="202.65" y="431.95" width="3.3" height="3.3" fill="none" stroke="#0f5799" stroke-width="0.8"/>
<rect x="202.85" y="405.15" width="3.3" height="3.3" fill="none" stroke="#0f5799" stroke-width="0.8"/>
<rect x="202.85" y="410.55" width="3.3" height="3.3" fill="none" stroke="#0f5799" stroke-width="0.8"/>
<rect x="202.85" y="418.15" width="3.3" height="3.3" fill="none" stroke="#0f5799" stroke-width="0.8"/>
<rect x="296.65" y="366.55" width="3.3" height="3.3" fill="none" stroke="#0f5799" stroke-width="0.8"/>
<rect x="296.65" y="372.35" width="3.3" height="3.3" fill="none" stroke="#0f5799" stroke-width="0.8"/>
<rect x="299.15" y="378.95" width="3.3" height="3.3" fill="none" stroke="#0f5799" stroke-width="0.8"/>
<rect x="291.35" y="383.05" width="3.3" height="3.3" fill="none" stroke="#0f5799" stroke-width="0.8"/>
<rect x="294.25" y="384.35" width="3.3" height="3.3" fill="none" stroke="#0f5799" stroke-width="0.8"/>
<rect x="299.15" y="386.75" width="3.3" height="3.3" fill="none" stroke="#0f5799" stroke-width="0.8"/>
<rect x="295.05" y="389.25" width="3.3" height="3.3" fill="none" stroke="#0f5799" stroke-width="0.8"/>
<rect x="298.75" y="389.25" width="3.3" height="3.3" fill="none" stroke="#0f5799" stroke-width="0.8"/>
<rect x="299.15" y="392.95" width="3.3" height="3.3" fill="none" stroke="#0f5799" stroke-width="0.8"/>
<rect x="291.35" y="395.05" width="3.3" height="3.3" fill="none" stroke="#0f5799" stroke-width="0.8"/>
<rect x="294.25" y="397.95" width="3.3" height="3.3" fill="none" stroke="#0f5799" stroke-width="0.8"/>
<rect x="298.75" y="399.15" width="3.3" height="3.3" fill="none" stroke="#0f5799" stroke-width="0.8"/>
<rect x="294.15" y="399.25" width="3.3" height="3.3" fill="none" stroke="#0f5799" stroke-width="0.8"/>
<rect x="298.95" y="401.65" width="3.3" height="3.3" fill="none" stroke="#0f5799" stroke-width="0.8"/>
<rect x="298.05" y="404.15" width="3.3" height="3.3" fill="none" stroke="#0f5799" stroke-width="0.8"/>
<rect x="293.15" y="407.55" width="3.3" height="3.3" fill="none" stroke="#0f5799" stroke-width="0.8"/>
<rect x="299.95" y="409.95" width="3.3" height="3.3" fill="none" stroke="#0f5799" stroke-width="0.8"/>
<rect x="296.05" y="410.95" width="3.3" height="3.3" fill="none" stroke="#0f5799" stroke-width="0.8"/>
<rect x="293.65" y="413.85" width="3.3" height="3.3" fill="none" stroke="#0f5799" stroke-width="0.8"/>
<rect x="299.45" y="414.35" width="3.3" height="3.3" fill="none" stroke="#0f5799" stroke-width="0.8"/>
<rect x="297.05" y="416.75" width="3.3" height="3.3" fill="none" stroke="#0f5799" stroke-width="0.8"/>
<rect x="293.15" y="419.15" width="3.3" height="3.3" fill="none" stroke="#0f5799" stroke-width="0.8"/>
<rect x="299.95" y="419.65" width="3.3" height="3.3" fill="none" stroke="#0f5799" stroke-width="0.8"/>
<rect x="296.05" y="422.05" width="3.3" height="3.3" fill="none" stroke="#0f5799" stroke-width="0.8"/>
<rect x="294.15" y="426.45" width="3.3" height="3.3" fill="none" stroke="#0f5799" stroke-width="0.8"/>
<rect x="293.15" y="430.35" width="3.3" height="3.3" fill="none" stroke="#0f5799" stroke-width="0.8"/>
<rect x="298.95" y="429.85" width="3.3" height="3.3" fill="none" stroke="#0f5799" stroke-width="0.8"/>
<rect x="297.55" y="432.75" width="3.3" height="3.3" fill="none" stroke="#0f5799" stroke-width="0.8"/>
<rect x="298.95" y="435.65" width="3.3" height="3.3" fill="none" stroke="#0f5799" stroke-width="0.8"/>
<rect x="293.65" y="439.05" width="3.3" height="3.3" fill="none" stroke="#0f5799" stroke-width="0.8"/>
<line x1="199.00" y1="399.80" x2="210.50" y2="399.80" stroke="#0f5799" stroke-width="0.9"/>
<line x1="245.50" y1="436.00" x2="257.00" y2="436.00" stroke="#0f5799" stroke-width="0.9"/>
<line x1="293.00" y1="410.10" x2="303.50" y2="410.10" stroke="#0f5799" stroke-width="0.9"/>
<text x="0" y="0" font-size="8.56" text-anchor="middle" font-weight="normal" fill="#222" transform="translate(242.50,347.00) scale(0.9346,1)" >TIM3+ NK subsets</text>
<text x="131.60" y="346.40" font-size="10.8" font-weight="bold" fill="#000" stroke="#000" stroke-width="0.35">H</text>
<text x="0" y="0" font-size="6.6" text-anchor="middle" fill="#222" stroke="#222" stroke-width="0.12" transform="translate(150.00,410.00) rotate(-90)" textLength="24.1" lengthAdjust="spacingAndGlyphs">% TIM3+</text>
<circle cx="324.60" cy="403.20" r="1.95" fill="#fff" fill-opacity="0.0" stroke="#cf1136" stroke-width="0.85"/>
<text x="0" y="0" font-size="6.61" text-anchor="start" fill="#2a2a2a" stroke="#2a2a2a" stroke-width="0.05" transform="translate(330.00,405.40) scale(0.8929,1)" >Healthy</text>
<rect x="322.65" y="410.85" width="3.9" height="3.9" fill="none" stroke="#0f5799" stroke-width="0.85"/>
<text x="0" y="0" font-size="6.61" text-anchor="start" fill="#2a2a2a" stroke="#2a2a2a" stroke-width="0.05" transform="translate(330.00,415.10) scale(0.8929,1)" >Baseline</text>
</svg>
</body></html>
